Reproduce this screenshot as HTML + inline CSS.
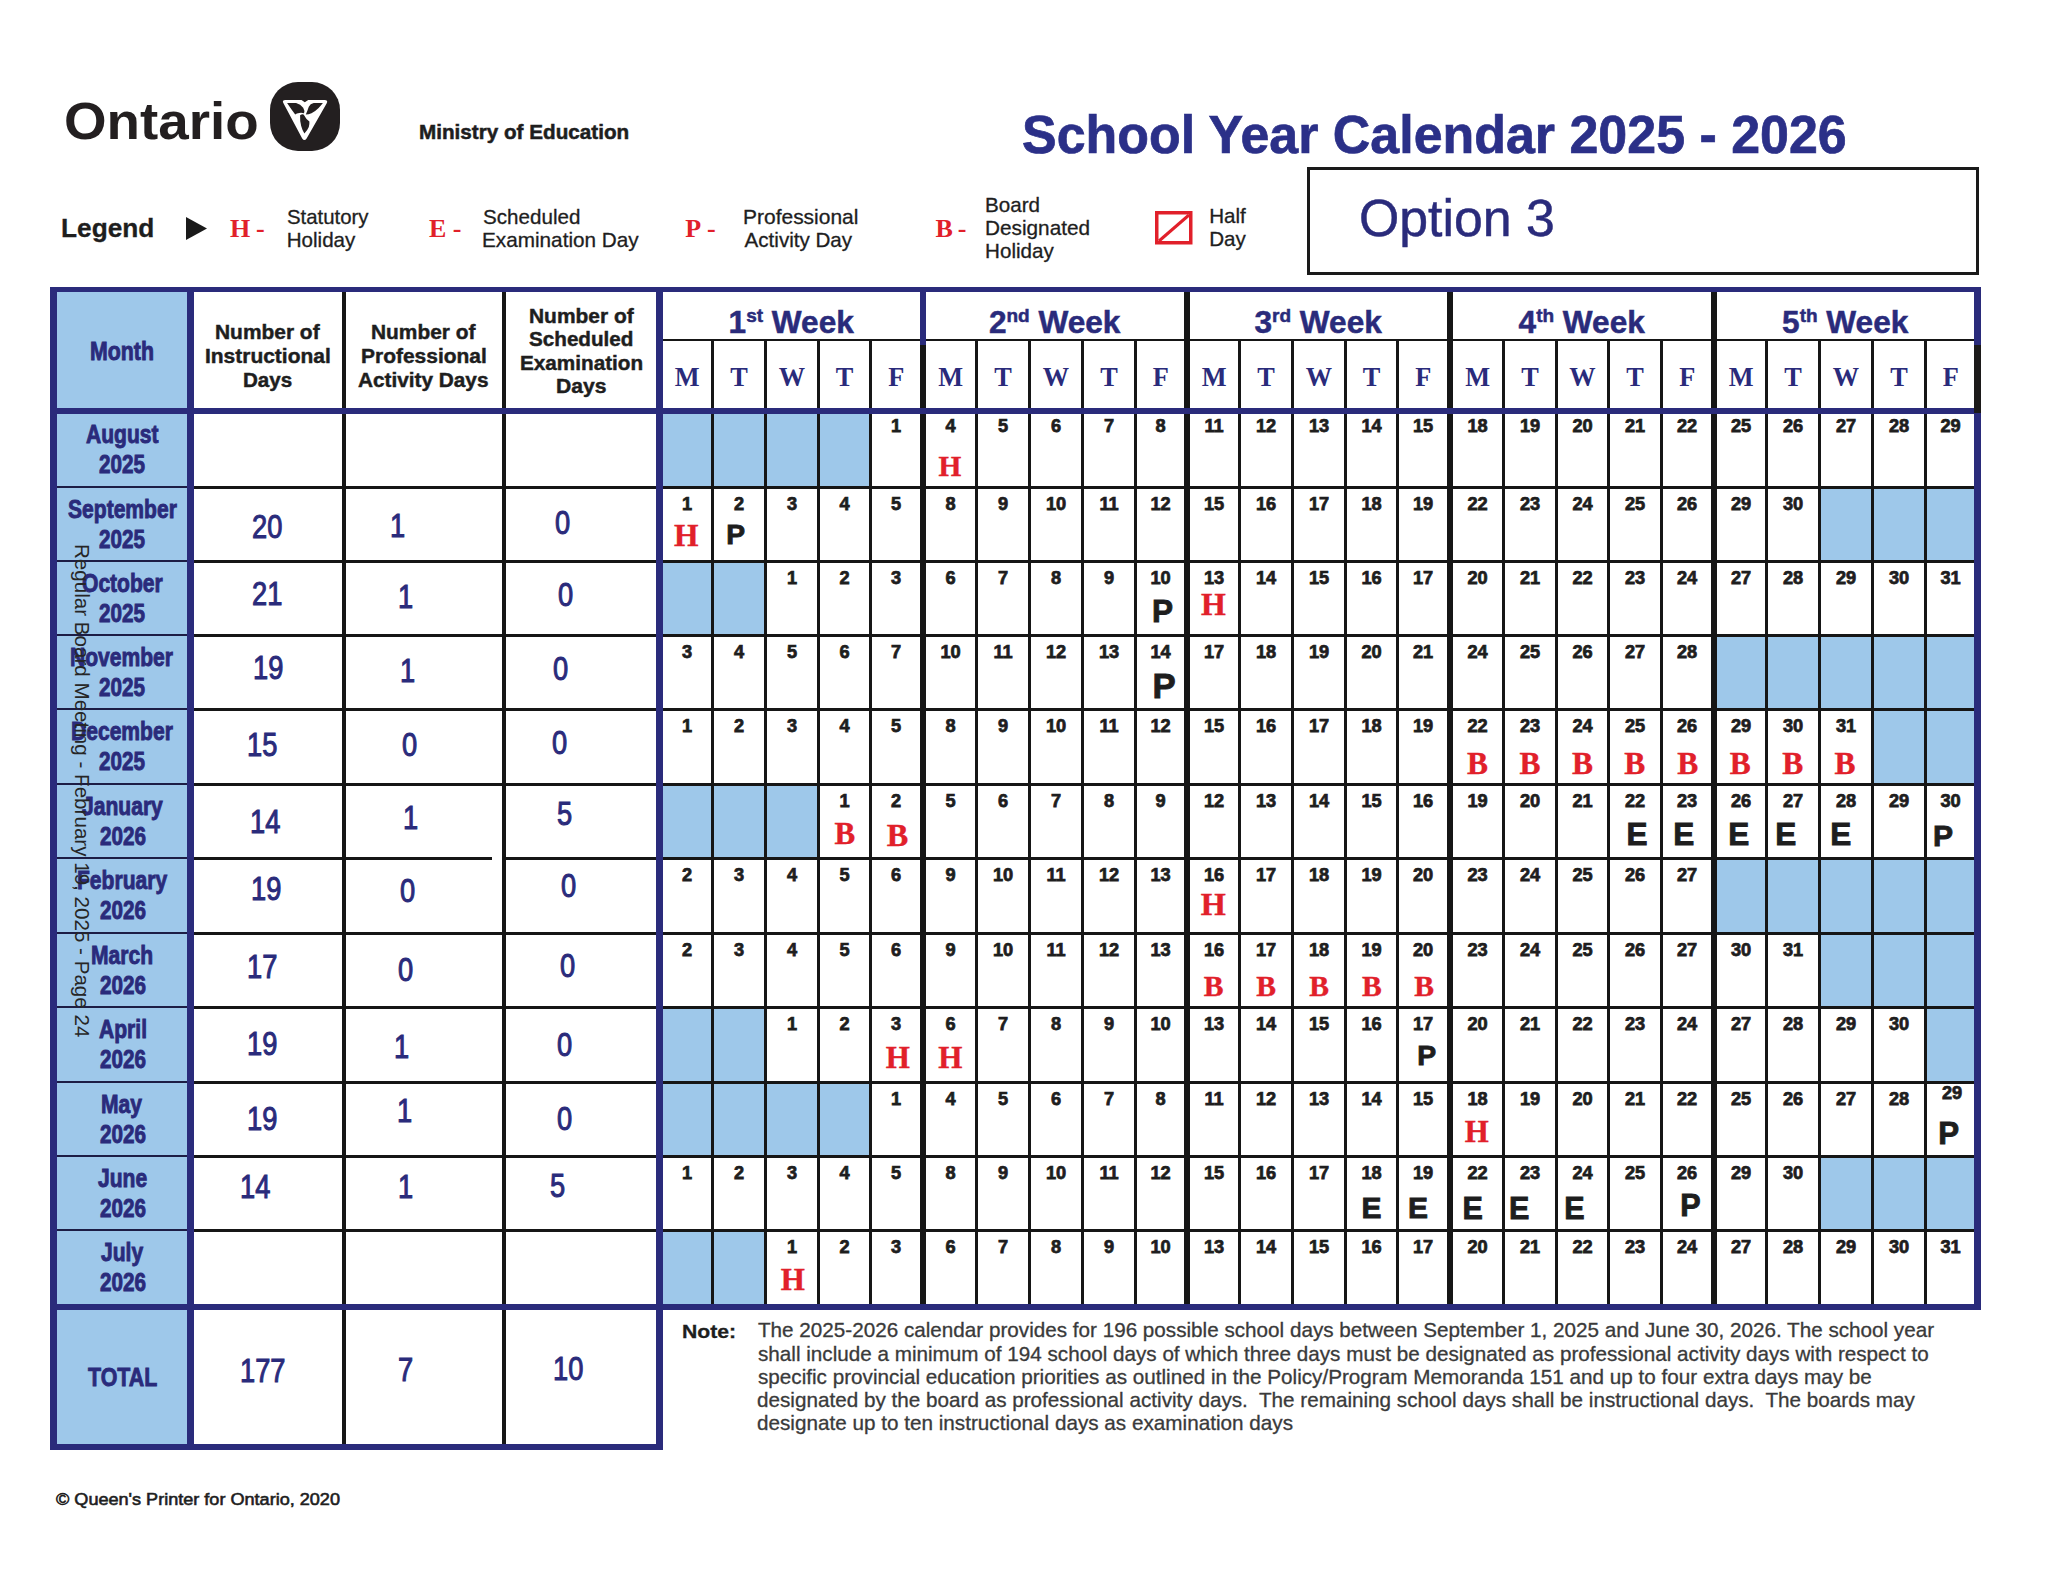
<!DOCTYPE html>
<html><head><meta charset="utf-8"><title>School Year Calendar 2025 - 2026</title>
<style>
html,body{margin:0;padding:0;background:#fff;}
body{width:2048px;height:1582px;position:relative;overflow:hidden;font-family:'Liberation Sans',sans-serif;}
body>div,body>svg{position:absolute;}
</style></head><body>
<div style="left:57px;top:292px;width:130px;height:1152px;background:#9ec8ea"></div>
<div style="left:663px;top:414px;width:48px;height:72px;background:#9ec8ea"></div>
<div style="left:714px;top:414px;width:50px;height:72px;background:#9ec8ea"></div>
<div style="left:767px;top:414px;width:50px;height:72px;background:#9ec8ea"></div>
<div style="left:820px;top:414px;width:49px;height:72px;background:#9ec8ea"></div>
<div style="left:1821px;top:489px;width:50px;height:71px;background:#9ec8ea"></div>
<div style="left:1874px;top:489px;width:50px;height:71px;background:#9ec8ea"></div>
<div style="left:1927px;top:489px;width:47px;height:71px;background:#9ec8ea"></div>
<div style="left:663px;top:563px;width:48px;height:71px;background:#9ec8ea"></div>
<div style="left:714px;top:563px;width:50px;height:71px;background:#9ec8ea"></div>
<div style="left:1717px;top:637px;width:48px;height:71px;background:#9ec8ea"></div>
<div style="left:1768px;top:637px;width:50px;height:71px;background:#9ec8ea"></div>
<div style="left:1821px;top:637px;width:50px;height:71px;background:#9ec8ea"></div>
<div style="left:1874px;top:637px;width:50px;height:71px;background:#9ec8ea"></div>
<div style="left:1927px;top:637px;width:47px;height:71px;background:#9ec8ea"></div>
<div style="left:1874px;top:711px;width:50px;height:72px;background:#9ec8ea"></div>
<div style="left:1927px;top:711px;width:47px;height:72px;background:#9ec8ea"></div>
<div style="left:663px;top:786px;width:48px;height:71px;background:#9ec8ea"></div>
<div style="left:714px;top:786px;width:50px;height:71px;background:#9ec8ea"></div>
<div style="left:767px;top:786px;width:50px;height:71px;background:#9ec8ea"></div>
<div style="left:1717px;top:860px;width:48px;height:72px;background:#9ec8ea"></div>
<div style="left:1768px;top:860px;width:50px;height:72px;background:#9ec8ea"></div>
<div style="left:1821px;top:860px;width:50px;height:72px;background:#9ec8ea"></div>
<div style="left:1874px;top:860px;width:50px;height:72px;background:#9ec8ea"></div>
<div style="left:1927px;top:860px;width:47px;height:72px;background:#9ec8ea"></div>
<div style="left:1821px;top:935px;width:50px;height:71px;background:#9ec8ea"></div>
<div style="left:1874px;top:935px;width:50px;height:71px;background:#9ec8ea"></div>
<div style="left:1927px;top:935px;width:47px;height:71px;background:#9ec8ea"></div>
<div style="left:663px;top:1009px;width:48px;height:72px;background:#9ec8ea"></div>
<div style="left:714px;top:1009px;width:50px;height:72px;background:#9ec8ea"></div>
<div style="left:1927px;top:1009px;width:47px;height:72px;background:#9ec8ea"></div>
<div style="left:663px;top:1084px;width:48px;height:71px;background:#9ec8ea"></div>
<div style="left:714px;top:1084px;width:50px;height:71px;background:#9ec8ea"></div>
<div style="left:767px;top:1084px;width:50px;height:71px;background:#9ec8ea"></div>
<div style="left:820px;top:1084px;width:49px;height:71px;background:#9ec8ea"></div>
<div style="left:1821px;top:1158px;width:50px;height:71px;background:#9ec8ea"></div>
<div style="left:1874px;top:1158px;width:50px;height:71px;background:#9ec8ea"></div>
<div style="left:1927px;top:1158px;width:47px;height:71px;background:#9ec8ea"></div>
<div style="left:663px;top:1232px;width:48px;height:72px;background:#9ec8ea"></div>
<div style="left:714px;top:1232px;width:50px;height:72px;background:#9ec8ea"></div>
<div style="left:342px;top:292px;width:4px;height:1152px;background:#161616"></div>
<div style="left:502px;top:292px;width:4px;height:1152px;background:#161616"></div>
<div style="left:57px;top:486px;width:130px;height:2px;background:#1d1d45"></div>
<div style="left:194px;top:486px;width:462px;height:3px;background:#161616"></div>
<div style="left:663px;top:486px;width:1311px;height:3px;background:#161616"></div>
<div style="left:57px;top:560px;width:130px;height:2px;background:#1d1d45"></div>
<div style="left:194px;top:560px;width:462px;height:3px;background:#161616"></div>
<div style="left:663px;top:560px;width:1311px;height:3px;background:#161616"></div>
<div style="left:57px;top:634px;width:130px;height:2px;background:#1d1d45"></div>
<div style="left:194px;top:634px;width:462px;height:3px;background:#161616"></div>
<div style="left:663px;top:634px;width:1311px;height:3px;background:#161616"></div>
<div style="left:57px;top:708px;width:130px;height:2px;background:#1d1d45"></div>
<div style="left:194px;top:708px;width:462px;height:3px;background:#161616"></div>
<div style="left:663px;top:708px;width:1311px;height:3px;background:#161616"></div>
<div style="left:57px;top:783px;width:130px;height:2px;background:#1d1d45"></div>
<div style="left:194px;top:783px;width:462px;height:3px;background:#161616"></div>
<div style="left:663px;top:783px;width:1311px;height:3px;background:#161616"></div>
<div style="left:57px;top:857px;width:130px;height:2px;background:#1d1d45"></div>
<div style="left:194px;top:857px;width:298px;height:3px;background:#161616"></div>
<div style="left:506px;top:857px;width:150px;height:3px;background:#161616"></div>
<div style="left:663px;top:857px;width:1311px;height:3px;background:#161616"></div>
<div style="left:57px;top:932px;width:130px;height:2px;background:#1d1d45"></div>
<div style="left:194px;top:932px;width:462px;height:3px;background:#161616"></div>
<div style="left:663px;top:932px;width:1311px;height:3px;background:#161616"></div>
<div style="left:57px;top:1006px;width:130px;height:2px;background:#1d1d45"></div>
<div style="left:194px;top:1006px;width:462px;height:3px;background:#161616"></div>
<div style="left:663px;top:1006px;width:1311px;height:3px;background:#161616"></div>
<div style="left:57px;top:1081px;width:130px;height:2px;background:#1d1d45"></div>
<div style="left:194px;top:1081px;width:462px;height:3px;background:#161616"></div>
<div style="left:663px;top:1081px;width:1311px;height:3px;background:#161616"></div>
<div style="left:57px;top:1155px;width:130px;height:2px;background:#1d1d45"></div>
<div style="left:194px;top:1155px;width:462px;height:3px;background:#161616"></div>
<div style="left:663px;top:1155px;width:1311px;height:3px;background:#161616"></div>
<div style="left:57px;top:1229px;width:130px;height:2px;background:#1d1d45"></div>
<div style="left:194px;top:1229px;width:462px;height:3px;background:#161616"></div>
<div style="left:663px;top:1229px;width:1311px;height:3px;background:#161616"></div>
<div style="left:711px;top:339px;width:3px;height:965px;background:#161616"></div>
<div style="left:764px;top:339px;width:3px;height:965px;background:#161616"></div>
<div style="left:817px;top:339px;width:3px;height:965px;background:#161616"></div>
<div style="left:869px;top:339px;width:3px;height:965px;background:#161616"></div>
<div style="left:975px;top:339px;width:3px;height:965px;background:#161616"></div>
<div style="left:1028px;top:339px;width:3px;height:965px;background:#161616"></div>
<div style="left:1081px;top:339px;width:3px;height:965px;background:#161616"></div>
<div style="left:1134px;top:339px;width:3px;height:965px;background:#161616"></div>
<div style="left:1238px;top:339px;width:3px;height:965px;background:#161616"></div>
<div style="left:1291px;top:339px;width:3px;height:965px;background:#161616"></div>
<div style="left:1344px;top:339px;width:3px;height:965px;background:#161616"></div>
<div style="left:1396px;top:339px;width:3px;height:965px;background:#161616"></div>
<div style="left:1502px;top:339px;width:3px;height:965px;background:#161616"></div>
<div style="left:1555px;top:339px;width:3px;height:965px;background:#161616"></div>
<div style="left:1607px;top:339px;width:3px;height:965px;background:#161616"></div>
<div style="left:1660px;top:339px;width:3px;height:965px;background:#161616"></div>
<div style="left:1765px;top:339px;width:3px;height:965px;background:#161616"></div>
<div style="left:1818px;top:339px;width:3px;height:965px;background:#161616"></div>
<div style="left:1871px;top:339px;width:3px;height:965px;background:#161616"></div>
<div style="left:1924px;top:339px;width:3px;height:965px;background:#161616"></div>
<div style="left:663px;top:339px;width:1311px;height:2px;background:#161616"></div>
<div style="left:920px;top:292px;width:6px;height:53px;background:#2a2b7b"></div>
<div style="left:920px;top:345px;width:6px;height:959px;background:#161616"></div>
<div style="left:1184px;top:292px;width:6px;height:1012px;background:#161616"></div>
<div style="left:1447px;top:292px;width:6px;height:1012px;background:#161616"></div>
<div style="left:1711px;top:292px;width:6px;height:1012px;background:#161616"></div>
<div style="left:50px;top:287px;width:1931px;height:5px;background:#2a2b7b"></div>
<div style="left:50px;top:287px;width:7px;height:1163px;background:#2a2b7b"></div>
<div style="left:50px;top:1444px;width:613px;height:6px;background:#2a2b7b"></div>
<div style="left:50px;top:1304px;width:1931px;height:6px;background:#2a2b7b"></div>
<div style="left:50px;top:408px;width:1931px;height:6px;background:#2a2b7b"></div>
<div style="left:187px;top:287px;width:7px;height:1163px;background:#2a2b7b"></div>
<div style="left:656px;top:287px;width:7px;height:1163px;background:#2a2b7b"></div>
<div style="left:1974px;top:287px;width:7px;height:1023px;background:#2a2b7b"></div>
<div style="left:1974px;top:345px;width:7px;height:68px;background:#1c1a1a"></div>
<div style="left:90.15px;top:338.54px;font:bold 25.70px/25.70px 'Liberation Sans', sans-serif;color:#2a2b7b;white-space:pre;transform:scaleX(0.8300);transform-origin:0 0;-webkit-text-stroke:0.9px #2a2b7b;">Month</div>
<div style="left:214.99px;top:321.90px;font:bold 20.20px/20.20px 'Liberation Sans', sans-serif;color:#1e1e1e;white-space:pre;transform:scaleX(1.0362);transform-origin:0 0;-webkit-text-stroke:0.45px #1e1e1e;">Number of</div>
<div style="left:204.58px;top:346.10px;font:bold 20.20px/20.20px 'Liberation Sans', sans-serif;color:#1e1e1e;white-space:pre;transform:scaleX(1.0378);transform-origin:0 0;-webkit-text-stroke:0.45px #1e1e1e;">Instructional</div>
<div style="left:242.61px;top:369.50px;font:bold 20.20px/20.20px 'Liberation Sans', sans-serif;color:#1e1e1e;white-space:pre;transform:scaleX(1.0194);transform-origin:0 0;-webkit-text-stroke:0.45px #1e1e1e;">Days</div>
<div style="left:371.09px;top:321.90px;font:bold 20.20px/20.20px 'Liberation Sans', sans-serif;color:#1e1e1e;white-space:pre;transform:scaleX(1.0352);transform-origin:0 0;-webkit-text-stroke:0.45px #1e1e1e;">Number of</div>
<div style="left:360.58px;top:345.90px;font:bold 20.20px/20.20px 'Liberation Sans', sans-serif;color:#1e1e1e;white-space:pre;transform:scaleX(1.0382);transform-origin:0 0;-webkit-text-stroke:0.45px #1e1e1e;">Professional</div>
<div style="left:358.18px;top:369.50px;font:bold 20.20px/20.20px 'Liberation Sans', sans-serif;color:#1e1e1e;white-space:pre;transform:scaleX(1.0291);transform-origin:0 0;-webkit-text-stroke:0.45px #1e1e1e;">Activity Days</div>
<div style="left:528.59px;top:305.90px;font:bold 20.20px/20.20px 'Liberation Sans', sans-serif;color:#1e1e1e;white-space:pre;transform:scaleX(1.0372);transform-origin:0 0;-webkit-text-stroke:0.45px #1e1e1e;">Number of</div>
<div style="left:529.38px;top:329.30px;font:bold 20.20px/20.20px 'Liberation Sans', sans-serif;color:#1e1e1e;white-space:pre;transform:scaleX(1.0230);transform-origin:0 0;-webkit-text-stroke:0.45px #1e1e1e;">Scheduled</div>
<div style="left:520.20px;top:352.90px;font:bold 20.20px/20.20px 'Liberation Sans', sans-serif;color:#1e1e1e;white-space:pre;transform:scaleX(1.0254);transform-origin:0 0;-webkit-text-stroke:0.45px #1e1e1e;">Examination</div>
<div style="left:555.77px;top:375.90px;font:bold 20.20px/20.20px 'Liberation Sans', sans-serif;color:#1e1e1e;white-space:pre;transform:scaleX(1.0454);transform-origin:0 0;-webkit-text-stroke:0.45px #1e1e1e;">Days</div>
<div style="top:307.25px;font:bold 31.6px/31.6px 'Liberation Sans', sans-serif;color:#2a2b7b;white-space:pre;left:391.20px;width:800px;text-align:center;-webkit-text-stroke:0.5px #2a2b7b;">1<span style="font-size:19px;position:relative;top:-11px">st</span> Week</div>
<div style="top:307.25px;font:bold 31.6px/31.6px 'Liberation Sans', sans-serif;color:#2a2b7b;white-space:pre;left:654.70px;width:800px;text-align:center;-webkit-text-stroke:0.5px #2a2b7b;">2<span style="font-size:19px;position:relative;top:-11px">nd</span> Week</div>
<div style="top:307.25px;font:bold 31.6px/31.6px 'Liberation Sans', sans-serif;color:#2a2b7b;white-space:pre;left:918.20px;width:800px;text-align:center;-webkit-text-stroke:0.5px #2a2b7b;">3<span style="font-size:19px;position:relative;top:-11px">rd</span> Week</div>
<div style="top:307.25px;font:bold 31.6px/31.6px 'Liberation Sans', sans-serif;color:#2a2b7b;white-space:pre;left:1181.70px;width:800px;text-align:center;-webkit-text-stroke:0.5px #2a2b7b;">4<span style="font-size:19px;position:relative;top:-11px">th</span> Week</div>
<div style="top:307.25px;font:bold 31.6px/31.6px 'Liberation Sans', sans-serif;color:#2a2b7b;white-space:pre;left:1445.20px;width:800px;text-align:center;-webkit-text-stroke:0.5px #2a2b7b;">5<span style="font-size:19px;position:relative;top:-11px">th</span> Week</div>
<div style="left:674.74px;top:365.47px;font:bold 26.30px/26.30px 'Liberation Serif', serif;color:#2a2b7b;white-space:pre;">M</div>
<div style="left:730.22px;top:365.47px;font:bold 26.30px/26.30px 'Liberation Serif', serif;color:#2a2b7b;white-space:pre;">T</div>
<div style="left:778.85px;top:365.47px;font:bold 26.30px/26.30px 'Liberation Serif', serif;color:#2a2b7b;white-space:pre;">W</div>
<div style="left:835.72px;top:365.47px;font:bold 26.30px/26.30px 'Liberation Serif', serif;color:#2a2b7b;white-space:pre;">T</div>
<div style="left:888.37px;top:365.47px;font:bold 26.30px/26.30px 'Liberation Serif', serif;color:#2a2b7b;white-space:pre;">F</div>
<div style="left:938.24px;top:365.47px;font:bold 26.30px/26.30px 'Liberation Serif', serif;color:#2a2b7b;white-space:pre;">M</div>
<div style="left:994.22px;top:365.47px;font:bold 26.30px/26.30px 'Liberation Serif', serif;color:#2a2b7b;white-space:pre;">T</div>
<div style="left:1042.85px;top:365.47px;font:bold 26.30px/26.30px 'Liberation Serif', serif;color:#2a2b7b;white-space:pre;">W</div>
<div style="left:1100.22px;top:365.47px;font:bold 26.30px/26.30px 'Liberation Serif', serif;color:#2a2b7b;white-space:pre;">T</div>
<div style="left:1152.87px;top:365.47px;font:bold 26.30px/26.30px 'Liberation Serif', serif;color:#2a2b7b;white-space:pre;">F</div>
<div style="left:1201.74px;top:365.47px;font:bold 26.30px/26.30px 'Liberation Serif', serif;color:#2a2b7b;white-space:pre;">M</div>
<div style="left:1257.22px;top:365.47px;font:bold 26.30px/26.30px 'Liberation Serif', serif;color:#2a2b7b;white-space:pre;">T</div>
<div style="left:1305.85px;top:365.47px;font:bold 26.30px/26.30px 'Liberation Serif', serif;color:#2a2b7b;white-space:pre;">W</div>
<div style="left:1362.72px;top:365.47px;font:bold 26.30px/26.30px 'Liberation Serif', serif;color:#2a2b7b;white-space:pre;">T</div>
<div style="left:1415.37px;top:365.47px;font:bold 26.30px/26.30px 'Liberation Serif', serif;color:#2a2b7b;white-space:pre;">F</div>
<div style="left:1465.24px;top:365.47px;font:bold 26.30px/26.30px 'Liberation Serif', serif;color:#2a2b7b;white-space:pre;">M</div>
<div style="left:1521.22px;top:365.47px;font:bold 26.30px/26.30px 'Liberation Serif', serif;color:#2a2b7b;white-space:pre;">T</div>
<div style="left:1569.35px;top:365.47px;font:bold 26.30px/26.30px 'Liberation Serif', serif;color:#2a2b7b;white-space:pre;">W</div>
<div style="left:1626.22px;top:365.47px;font:bold 26.30px/26.30px 'Liberation Serif', serif;color:#2a2b7b;white-space:pre;">T</div>
<div style="left:1679.37px;top:365.47px;font:bold 26.30px/26.30px 'Liberation Serif', serif;color:#2a2b7b;white-space:pre;">F</div>
<div style="left:1728.74px;top:365.47px;font:bold 26.30px/26.30px 'Liberation Serif', serif;color:#2a2b7b;white-space:pre;">M</div>
<div style="left:1784.22px;top:365.47px;font:bold 26.30px/26.30px 'Liberation Serif', serif;color:#2a2b7b;white-space:pre;">T</div>
<div style="left:1832.85px;top:365.47px;font:bold 26.30px/26.30px 'Liberation Serif', serif;color:#2a2b7b;white-space:pre;">W</div>
<div style="left:1890.22px;top:365.47px;font:bold 26.30px/26.30px 'Liberation Serif', serif;color:#2a2b7b;white-space:pre;">T</div>
<div style="left:1942.87px;top:365.47px;font:bold 26.30px/26.30px 'Liberation Serif', serif;color:#2a2b7b;white-space:pre;">F</div>
<div style="left:86.09px;top:421.64px;font:bold 25.70px/25.70px 'Liberation Sans', sans-serif;color:#2a2b7b;white-space:pre;transform:scaleX(0.8200);transform-origin:0 0;-webkit-text-stroke:0.9px #2a2b7b;">August</div>
<div style="left:99.46px;top:451.77px;font:bold 25.20px/25.20px 'Liberation Sans', sans-serif;color:#2a2b7b;white-space:pre;transform:scaleX(0.8200);transform-origin:0 0;-webkit-text-stroke:0.9px #2a2b7b;">2025</div>
<div style="left:67.87px;top:496.64px;font:bold 25.70px/25.70px 'Liberation Sans', sans-serif;color:#2a2b7b;white-space:pre;transform:scaleX(0.8200);transform-origin:0 0;-webkit-text-stroke:0.9px #2a2b7b;">September</div>
<div style="left:99.46px;top:526.77px;font:bold 25.20px/25.20px 'Liberation Sans', sans-serif;color:#2a2b7b;white-space:pre;transform:scaleX(0.8200);transform-origin:0 0;-webkit-text-stroke:0.9px #2a2b7b;">2025</div>
<div style="left:81.83px;top:570.64px;font:bold 25.70px/25.70px 'Liberation Sans', sans-serif;color:#2a2b7b;white-space:pre;transform:scaleX(0.8200);transform-origin:0 0;-webkit-text-stroke:0.9px #2a2b7b;">October</div>
<div style="left:99.46px;top:600.77px;font:bold 25.20px/25.20px 'Liberation Sans', sans-serif;color:#2a2b7b;white-space:pre;transform:scaleX(0.8200);transform-origin:0 0;-webkit-text-stroke:0.9px #2a2b7b;">2025</div>
<div style="left:70.39px;top:644.64px;font:bold 25.70px/25.70px 'Liberation Sans', sans-serif;color:#2a2b7b;white-space:pre;transform:scaleX(0.8200);transform-origin:0 0;-webkit-text-stroke:0.9px #2a2b7b;">November</div>
<div style="left:99.46px;top:674.77px;font:bold 25.20px/25.20px 'Liberation Sans', sans-serif;color:#2a2b7b;white-space:pre;transform:scaleX(0.8200);transform-origin:0 0;-webkit-text-stroke:0.9px #2a2b7b;">2025</div>
<div style="left:70.97px;top:718.64px;font:bold 25.70px/25.70px 'Liberation Sans', sans-serif;color:#2a2b7b;white-space:pre;transform:scaleX(0.8200);transform-origin:0 0;-webkit-text-stroke:0.9px #2a2b7b;">December</div>
<div style="left:99.46px;top:748.77px;font:bold 25.20px/25.20px 'Liberation Sans', sans-serif;color:#2a2b7b;white-space:pre;transform:scaleX(0.8200);transform-origin:0 0;-webkit-text-stroke:0.9px #2a2b7b;">2025</div>
<div style="left:81.99px;top:793.64px;font:bold 25.70px/25.70px 'Liberation Sans', sans-serif;color:#2a2b7b;white-space:pre;transform:scaleX(0.8200);transform-origin:0 0;-webkit-text-stroke:0.9px #2a2b7b;">January</div>
<div style="left:99.54px;top:823.77px;font:bold 25.20px/25.20px 'Liberation Sans', sans-serif;color:#2a2b7b;white-space:pre;transform:scaleX(0.8200);transform-origin:0 0;-webkit-text-stroke:0.9px #2a2b7b;">2026</div>
<div style="left:76.77px;top:867.64px;font:bold 25.70px/25.70px 'Liberation Sans', sans-serif;color:#2a2b7b;white-space:pre;transform:scaleX(0.8200);transform-origin:0 0;-webkit-text-stroke:0.9px #2a2b7b;">February</div>
<div style="left:99.54px;top:897.77px;font:bold 25.20px/25.20px 'Liberation Sans', sans-serif;color:#2a2b7b;white-space:pre;transform:scaleX(0.8200);transform-origin:0 0;-webkit-text-stroke:0.9px #2a2b7b;">2026</div>
<div style="left:91.39px;top:942.64px;font:bold 25.70px/25.70px 'Liberation Sans', sans-serif;color:#2a2b7b;white-space:pre;transform:scaleX(0.8200);transform-origin:0 0;-webkit-text-stroke:0.9px #2a2b7b;">March</div>
<div style="left:99.54px;top:972.77px;font:bold 25.20px/25.20px 'Liberation Sans', sans-serif;color:#2a2b7b;white-space:pre;transform:scaleX(0.8200);transform-origin:0 0;-webkit-text-stroke:0.9px #2a2b7b;">2026</div>
<div style="left:98.98px;top:1016.64px;font:bold 25.70px/25.70px 'Liberation Sans', sans-serif;color:#2a2b7b;white-space:pre;transform:scaleX(0.8200);transform-origin:0 0;-webkit-text-stroke:0.9px #2a2b7b;">April</div>
<div style="left:99.54px;top:1046.77px;font:bold 25.20px/25.20px 'Liberation Sans', sans-serif;color:#2a2b7b;white-space:pre;transform:scaleX(0.8200);transform-origin:0 0;-webkit-text-stroke:0.9px #2a2b7b;">2026</div>
<div style="left:101.35px;top:1091.64px;font:bold 25.70px/25.70px 'Liberation Sans', sans-serif;color:#2a2b7b;white-space:pre;transform:scaleX(0.8200);transform-origin:0 0;-webkit-text-stroke:0.9px #2a2b7b;">May</div>
<div style="left:99.54px;top:1121.77px;font:bold 25.20px/25.20px 'Liberation Sans', sans-serif;color:#2a2b7b;white-space:pre;transform:scaleX(0.8200);transform-origin:0 0;-webkit-text-stroke:0.9px #2a2b7b;">2026</div>
<div style="left:98.11px;top:1165.64px;font:bold 25.70px/25.70px 'Liberation Sans', sans-serif;color:#2a2b7b;white-space:pre;transform:scaleX(0.8200);transform-origin:0 0;-webkit-text-stroke:0.9px #2a2b7b;">June</div>
<div style="left:99.54px;top:1195.77px;font:bold 25.20px/25.20px 'Liberation Sans', sans-serif;color:#2a2b7b;white-space:pre;transform:scaleX(0.8200);transform-origin:0 0;-webkit-text-stroke:0.9px #2a2b7b;">2026</div>
<div style="left:101.32px;top:1239.64px;font:bold 25.70px/25.70px 'Liberation Sans', sans-serif;color:#2a2b7b;white-space:pre;transform:scaleX(0.8200);transform-origin:0 0;-webkit-text-stroke:0.9px #2a2b7b;">July</div>
<div style="left:99.54px;top:1269.77px;font:bold 25.20px/25.20px 'Liberation Sans', sans-serif;color:#2a2b7b;white-space:pre;transform:scaleX(0.8200);transform-origin:0 0;-webkit-text-stroke:0.9px #2a2b7b;">2026</div>
<div style="left:88.49px;top:1364.34px;font:bold 26.57px/26.57px 'Liberation Sans', sans-serif;color:#2a2b7b;white-space:pre;transform:scaleX(0.8044);transform-origin:0 0;-webkit-text-stroke:0.9px #2a2b7b;">TOTAL</div>
<div style="left:252.23px;top:511.16px;font:32.50px/32.50px 'Liberation Sans', sans-serif;color:#2a2b7b;white-space:pre;transform:scaleX(0.8400);transform-origin:0 0;-webkit-text-stroke:1px #2a2b7b;">20</div>
<div style="left:390.05px;top:510.29px;font:32.50px/32.50px 'Liberation Sans', sans-serif;color:#2a2b7b;white-space:pre;transform:scaleX(0.8400);transform-origin:0 0;-webkit-text-stroke:1px #2a2b7b;">1</div>
<div style="left:554.99px;top:506.96px;font:32.50px/32.50px 'Liberation Sans', sans-serif;color:#2a2b7b;white-space:pre;transform:scaleX(0.8400);transform-origin:0 0;-webkit-text-stroke:1px #2a2b7b;">0</div>
<div style="left:252.26px;top:578.39px;font:32.50px/32.50px 'Liberation Sans', sans-serif;color:#2a2b7b;white-space:pre;transform:scaleX(0.8400);transform-origin:0 0;-webkit-text-stroke:1px #2a2b7b;">21</div>
<div style="left:398.15px;top:580.69px;font:32.50px/32.50px 'Liberation Sans', sans-serif;color:#2a2b7b;white-space:pre;transform:scaleX(0.8400);transform-origin:0 0;-webkit-text-stroke:1px #2a2b7b;">1</div>
<div style="left:558.14px;top:578.76px;font:32.50px/32.50px 'Liberation Sans', sans-serif;color:#2a2b7b;white-space:pre;transform:scaleX(0.8400);transform-origin:0 0;-webkit-text-stroke:1px #2a2b7b;">0</div>
<div style="left:252.69px;top:651.96px;font:32.50px/32.50px 'Liberation Sans', sans-serif;color:#2a2b7b;white-space:pre;transform:scaleX(0.8400);transform-origin:0 0;-webkit-text-stroke:1px #2a2b7b;">19</div>
<div style="left:399.90px;top:655.09px;font:32.50px/32.50px 'Liberation Sans', sans-serif;color:#2a2b7b;white-space:pre;transform:scaleX(0.8400);transform-origin:0 0;-webkit-text-stroke:1px #2a2b7b;">1</div>
<div style="left:553.49px;top:653.06px;font:32.50px/32.50px 'Liberation Sans', sans-serif;color:#2a2b7b;white-space:pre;transform:scaleX(0.8400);transform-origin:0 0;-webkit-text-stroke:1px #2a2b7b;">0</div>
<div style="left:246.77px;top:729.36px;font:32.50px/32.50px 'Liberation Sans', sans-serif;color:#2a2b7b;white-space:pre;transform:scaleX(0.8400);transform-origin:0 0;-webkit-text-stroke:1px #2a2b7b;">15</div>
<div style="left:401.74px;top:729.36px;font:32.50px/32.50px 'Liberation Sans', sans-serif;color:#2a2b7b;white-space:pre;transform:scaleX(0.8400);transform-origin:0 0;-webkit-text-stroke:1px #2a2b7b;">0</div>
<div style="left:552.39px;top:726.96px;font:32.50px/32.50px 'Liberation Sans', sans-serif;color:#2a2b7b;white-space:pre;transform:scaleX(0.8400);transform-origin:0 0;-webkit-text-stroke:1px #2a2b7b;">0</div>
<div style="left:250.45px;top:805.89px;font:32.50px/32.50px 'Liberation Sans', sans-serif;color:#2a2b7b;white-space:pre;transform:scaleX(0.8400);transform-origin:0 0;-webkit-text-stroke:1px #2a2b7b;">14</div>
<div style="left:403.35px;top:801.89px;font:32.50px/32.50px 'Liberation Sans', sans-serif;color:#2a2b7b;white-space:pre;transform:scaleX(0.8400);transform-origin:0 0;-webkit-text-stroke:1px #2a2b7b;">1</div>
<div style="left:556.52px;top:798.46px;font:32.50px/32.50px 'Liberation Sans', sans-serif;color:#2a2b7b;white-space:pre;transform:scaleX(0.8400);transform-origin:0 0;-webkit-text-stroke:1px #2a2b7b;">5</div>
<div style="left:251.39px;top:873.36px;font:32.50px/32.50px 'Liberation Sans', sans-serif;color:#2a2b7b;white-space:pre;transform:scaleX(0.8400);transform-origin:0 0;-webkit-text-stroke:1px #2a2b7b;">19</div>
<div style="left:400.29px;top:874.86px;font:32.50px/32.50px 'Liberation Sans', sans-serif;color:#2a2b7b;white-space:pre;transform:scaleX(0.8400);transform-origin:0 0;-webkit-text-stroke:1px #2a2b7b;">0</div>
<div style="left:561.49px;top:870.16px;font:32.50px/32.50px 'Liberation Sans', sans-serif;color:#2a2b7b;white-space:pre;transform:scaleX(0.8400);transform-origin:0 0;-webkit-text-stroke:1px #2a2b7b;">0</div>
<div style="left:247.46px;top:950.89px;font:32.50px/32.50px 'Liberation Sans', sans-serif;color:#2a2b7b;white-space:pre;transform:scaleX(0.8400);transform-origin:0 0;-webkit-text-stroke:1px #2a2b7b;">17</div>
<div style="left:398.44px;top:954.06px;font:32.50px/32.50px 'Liberation Sans', sans-serif;color:#2a2b7b;white-space:pre;transform:scaleX(0.8400);transform-origin:0 0;-webkit-text-stroke:1px #2a2b7b;">0</div>
<div style="left:559.79px;top:950.06px;font:32.50px/32.50px 'Liberation Sans', sans-serif;color:#2a2b7b;white-space:pre;transform:scaleX(0.8400);transform-origin:0 0;-webkit-text-stroke:1px #2a2b7b;">0</div>
<div style="left:246.69px;top:1028.16px;font:32.50px/32.50px 'Liberation Sans', sans-serif;color:#2a2b7b;white-space:pre;transform:scaleX(0.8400);transform-origin:0 0;-webkit-text-stroke:1px #2a2b7b;">19</div>
<div style="left:394.20px;top:1030.79px;font:32.50px/32.50px 'Liberation Sans', sans-serif;color:#2a2b7b;white-space:pre;transform:scaleX(0.8400);transform-origin:0 0;-webkit-text-stroke:1px #2a2b7b;">1</div>
<div style="left:556.89px;top:1029.26px;font:32.50px/32.50px 'Liberation Sans', sans-serif;color:#2a2b7b;white-space:pre;transform:scaleX(0.8400);transform-origin:0 0;-webkit-text-stroke:1px #2a2b7b;">0</div>
<div style="left:246.69px;top:1102.86px;font:32.50px/32.50px 'Liberation Sans', sans-serif;color:#2a2b7b;white-space:pre;transform:scaleX(0.8400);transform-origin:0 0;-webkit-text-stroke:1px #2a2b7b;">19</div>
<div style="left:396.85px;top:1095.49px;font:32.50px/32.50px 'Liberation Sans', sans-serif;color:#2a2b7b;white-space:pre;transform:scaleX(0.8400);transform-origin:0 0;-webkit-text-stroke:1px #2a2b7b;">1</div>
<div style="left:556.89px;top:1102.86px;font:32.50px/32.50px 'Liberation Sans', sans-serif;color:#2a2b7b;white-space:pre;transform:scaleX(0.8400);transform-origin:0 0;-webkit-text-stroke:1px #2a2b7b;">0</div>
<div style="left:239.75px;top:1170.69px;font:32.50px/32.50px 'Liberation Sans', sans-serif;color:#2a2b7b;white-space:pre;transform:scaleX(0.8400);transform-origin:0 0;-webkit-text-stroke:1px #2a2b7b;">14</div>
<div style="left:398.05px;top:1170.69px;font:32.50px/32.50px 'Liberation Sans', sans-serif;color:#2a2b7b;white-space:pre;transform:scaleX(0.8400);transform-origin:0 0;-webkit-text-stroke:1px #2a2b7b;">1</div>
<div style="left:550.42px;top:1170.36px;font:32.50px/32.50px 'Liberation Sans', sans-serif;color:#2a2b7b;white-space:pre;transform:scaleX(0.8400);transform-origin:0 0;-webkit-text-stroke:1px #2a2b7b;">5</div>
<div style="left:239.55px;top:1355.19px;font:32.50px/32.50px 'Liberation Sans', sans-serif;color:#2a2b7b;white-space:pre;transform:scaleX(0.8400);transform-origin:0 0;-webkit-text-stroke:1px #2a2b7b;">177</div>
<div style="left:398.32px;top:1353.59px;font:32.50px/32.50px 'Liberation Sans', sans-serif;color:#2a2b7b;white-space:pre;transform:scaleX(0.8400);transform-origin:0 0;-webkit-text-stroke:1px #2a2b7b;">7</div>
<div style="left:553.34px;top:1352.56px;font:32.50px/32.50px 'Liberation Sans', sans-serif;color:#2a2b7b;white-space:pre;transform:scaleX(0.8400);transform-origin:0 0;-webkit-text-stroke:1px #2a2b7b;">10</div>
<div style="top:416.89px;font:bold 18.2px/18.2px 'Liberation Sans', sans-serif;color:#1e1e1e;white-space:pre;left:496.00px;width:800px;text-align:center;-webkit-text-stroke:0.75px #1e1e1e;">1</div>
<div style="top:416.89px;font:bold 18.2px/18.2px 'Liberation Sans', sans-serif;color:#1e1e1e;white-space:pre;left:550.50px;width:800px;text-align:center;-webkit-text-stroke:0.75px #1e1e1e;">4</div>
<div style="left:938.57px;top:452.05px;font:bold 29.31px/29.31px 'Liberation Serif', serif;color:#e1202a;white-space:pre;-webkit-text-stroke:0.4px #e1202a;">H</div>
<div style="top:416.89px;font:bold 18.2px/18.2px 'Liberation Sans', sans-serif;color:#1e1e1e;white-space:pre;left:603.00px;width:800px;text-align:center;-webkit-text-stroke:0.75px #1e1e1e;">5</div>
<div style="top:416.89px;font:bold 18.2px/18.2px 'Liberation Sans', sans-serif;color:#1e1e1e;white-space:pre;left:656.00px;width:800px;text-align:center;-webkit-text-stroke:0.75px #1e1e1e;">6</div>
<div style="top:416.89px;font:bold 18.2px/18.2px 'Liberation Sans', sans-serif;color:#1e1e1e;white-space:pre;left:709.00px;width:800px;text-align:center;-webkit-text-stroke:0.75px #1e1e1e;">7</div>
<div style="top:416.89px;font:bold 18.2px/18.2px 'Liberation Sans', sans-serif;color:#1e1e1e;white-space:pre;left:760.50px;width:800px;text-align:center;-webkit-text-stroke:0.75px #1e1e1e;">8</div>
<div style="top:416.89px;font:bold 18.2px/18.2px 'Liberation Sans', sans-serif;color:#1e1e1e;white-space:pre;left:814.00px;width:800px;text-align:center;-webkit-text-stroke:0.75px #1e1e1e;">11</div>
<div style="top:416.89px;font:bold 18.2px/18.2px 'Liberation Sans', sans-serif;color:#1e1e1e;white-space:pre;left:866.00px;width:800px;text-align:center;-webkit-text-stroke:0.75px #1e1e1e;">12</div>
<div style="top:416.89px;font:bold 18.2px/18.2px 'Liberation Sans', sans-serif;color:#1e1e1e;white-space:pre;left:919.00px;width:800px;text-align:center;-webkit-text-stroke:0.75px #1e1e1e;">13</div>
<div style="top:416.89px;font:bold 18.2px/18.2px 'Liberation Sans', sans-serif;color:#1e1e1e;white-space:pre;left:971.50px;width:800px;text-align:center;-webkit-text-stroke:0.75px #1e1e1e;">14</div>
<div style="top:416.89px;font:bold 18.2px/18.2px 'Liberation Sans', sans-serif;color:#1e1e1e;white-space:pre;left:1023.00px;width:800px;text-align:center;-webkit-text-stroke:0.75px #1e1e1e;">15</div>
<div style="top:416.89px;font:bold 18.2px/18.2px 'Liberation Sans', sans-serif;color:#1e1e1e;white-space:pre;left:1077.50px;width:800px;text-align:center;-webkit-text-stroke:0.75px #1e1e1e;">18</div>
<div style="top:416.89px;font:bold 18.2px/18.2px 'Liberation Sans', sans-serif;color:#1e1e1e;white-space:pre;left:1130.00px;width:800px;text-align:center;-webkit-text-stroke:0.75px #1e1e1e;">19</div>
<div style="top:416.89px;font:bold 18.2px/18.2px 'Liberation Sans', sans-serif;color:#1e1e1e;white-space:pre;left:1182.50px;width:800px;text-align:center;-webkit-text-stroke:0.75px #1e1e1e;">20</div>
<div style="top:416.89px;font:bold 18.2px/18.2px 'Liberation Sans', sans-serif;color:#1e1e1e;white-space:pre;left:1235.00px;width:800px;text-align:center;-webkit-text-stroke:0.75px #1e1e1e;">21</div>
<div style="top:416.89px;font:bold 18.2px/18.2px 'Liberation Sans', sans-serif;color:#1e1e1e;white-space:pre;left:1287.00px;width:800px;text-align:center;-webkit-text-stroke:0.75px #1e1e1e;">22</div>
<div style="top:416.89px;font:bold 18.2px/18.2px 'Liberation Sans', sans-serif;color:#1e1e1e;white-space:pre;left:1341.00px;width:800px;text-align:center;-webkit-text-stroke:0.75px #1e1e1e;">25</div>
<div style="top:416.89px;font:bold 18.2px/18.2px 'Liberation Sans', sans-serif;color:#1e1e1e;white-space:pre;left:1393.00px;width:800px;text-align:center;-webkit-text-stroke:0.75px #1e1e1e;">26</div>
<div style="top:416.89px;font:bold 18.2px/18.2px 'Liberation Sans', sans-serif;color:#1e1e1e;white-space:pre;left:1446.00px;width:800px;text-align:center;-webkit-text-stroke:0.75px #1e1e1e;">27</div>
<div style="top:416.89px;font:bold 18.2px/18.2px 'Liberation Sans', sans-serif;color:#1e1e1e;white-space:pre;left:1499.00px;width:800px;text-align:center;-webkit-text-stroke:0.75px #1e1e1e;">28</div>
<div style="top:416.89px;font:bold 18.2px/18.2px 'Liberation Sans', sans-serif;color:#1e1e1e;white-space:pre;left:1550.50px;width:800px;text-align:center;-webkit-text-stroke:0.75px #1e1e1e;">29</div>
<div style="top:494.69px;font:bold 18.2px/18.2px 'Liberation Sans', sans-serif;color:#1e1e1e;white-space:pre;left:287.00px;width:800px;text-align:center;-webkit-text-stroke:0.75px #1e1e1e;">1</div>
<div style="left:673.93px;top:519.56px;font:bold 31.45px/31.45px 'Liberation Serif', serif;color:#e1202a;white-space:pre;-webkit-text-stroke:0.4px #e1202a;">H</div>
<div style="top:494.69px;font:bold 18.2px/18.2px 'Liberation Sans', sans-serif;color:#1e1e1e;white-space:pre;left:339.00px;width:800px;text-align:center;-webkit-text-stroke:0.75px #1e1e1e;">2</div>
<div style="left:726.13px;top:519.58px;font:bold 28.20px/28.20px 'Liberation Sans', sans-serif;color:#1e1e1e;white-space:pre;-webkit-text-stroke:0.9px #1e1e1e;">P</div>
<div style="top:494.69px;font:bold 18.2px/18.2px 'Liberation Sans', sans-serif;color:#1e1e1e;white-space:pre;left:392.00px;width:800px;text-align:center;-webkit-text-stroke:0.75px #1e1e1e;">3</div>
<div style="top:494.69px;font:bold 18.2px/18.2px 'Liberation Sans', sans-serif;color:#1e1e1e;white-space:pre;left:444.50px;width:800px;text-align:center;-webkit-text-stroke:0.75px #1e1e1e;">4</div>
<div style="top:494.69px;font:bold 18.2px/18.2px 'Liberation Sans', sans-serif;color:#1e1e1e;white-space:pre;left:496.00px;width:800px;text-align:center;-webkit-text-stroke:0.75px #1e1e1e;">5</div>
<div style="top:494.69px;font:bold 18.2px/18.2px 'Liberation Sans', sans-serif;color:#1e1e1e;white-space:pre;left:550.50px;width:800px;text-align:center;-webkit-text-stroke:0.75px #1e1e1e;">8</div>
<div style="top:494.69px;font:bold 18.2px/18.2px 'Liberation Sans', sans-serif;color:#1e1e1e;white-space:pre;left:603.00px;width:800px;text-align:center;-webkit-text-stroke:0.75px #1e1e1e;">9</div>
<div style="top:494.69px;font:bold 18.2px/18.2px 'Liberation Sans', sans-serif;color:#1e1e1e;white-space:pre;left:656.00px;width:800px;text-align:center;-webkit-text-stroke:0.75px #1e1e1e;">10</div>
<div style="top:494.69px;font:bold 18.2px/18.2px 'Liberation Sans', sans-serif;color:#1e1e1e;white-space:pre;left:709.00px;width:800px;text-align:center;-webkit-text-stroke:0.75px #1e1e1e;">11</div>
<div style="top:494.69px;font:bold 18.2px/18.2px 'Liberation Sans', sans-serif;color:#1e1e1e;white-space:pre;left:760.50px;width:800px;text-align:center;-webkit-text-stroke:0.75px #1e1e1e;">12</div>
<div style="top:494.69px;font:bold 18.2px/18.2px 'Liberation Sans', sans-serif;color:#1e1e1e;white-space:pre;left:814.00px;width:800px;text-align:center;-webkit-text-stroke:0.75px #1e1e1e;">15</div>
<div style="top:494.69px;font:bold 18.2px/18.2px 'Liberation Sans', sans-serif;color:#1e1e1e;white-space:pre;left:866.00px;width:800px;text-align:center;-webkit-text-stroke:0.75px #1e1e1e;">16</div>
<div style="top:494.69px;font:bold 18.2px/18.2px 'Liberation Sans', sans-serif;color:#1e1e1e;white-space:pre;left:919.00px;width:800px;text-align:center;-webkit-text-stroke:0.75px #1e1e1e;">17</div>
<div style="top:494.69px;font:bold 18.2px/18.2px 'Liberation Sans', sans-serif;color:#1e1e1e;white-space:pre;left:971.50px;width:800px;text-align:center;-webkit-text-stroke:0.75px #1e1e1e;">18</div>
<div style="top:494.69px;font:bold 18.2px/18.2px 'Liberation Sans', sans-serif;color:#1e1e1e;white-space:pre;left:1023.00px;width:800px;text-align:center;-webkit-text-stroke:0.75px #1e1e1e;">19</div>
<div style="top:494.69px;font:bold 18.2px/18.2px 'Liberation Sans', sans-serif;color:#1e1e1e;white-space:pre;left:1077.50px;width:800px;text-align:center;-webkit-text-stroke:0.75px #1e1e1e;">22</div>
<div style="top:494.69px;font:bold 18.2px/18.2px 'Liberation Sans', sans-serif;color:#1e1e1e;white-space:pre;left:1130.00px;width:800px;text-align:center;-webkit-text-stroke:0.75px #1e1e1e;">23</div>
<div style="top:494.69px;font:bold 18.2px/18.2px 'Liberation Sans', sans-serif;color:#1e1e1e;white-space:pre;left:1182.50px;width:800px;text-align:center;-webkit-text-stroke:0.75px #1e1e1e;">24</div>
<div style="top:494.69px;font:bold 18.2px/18.2px 'Liberation Sans', sans-serif;color:#1e1e1e;white-space:pre;left:1235.00px;width:800px;text-align:center;-webkit-text-stroke:0.75px #1e1e1e;">25</div>
<div style="top:494.69px;font:bold 18.2px/18.2px 'Liberation Sans', sans-serif;color:#1e1e1e;white-space:pre;left:1287.00px;width:800px;text-align:center;-webkit-text-stroke:0.75px #1e1e1e;">26</div>
<div style="top:494.69px;font:bold 18.2px/18.2px 'Liberation Sans', sans-serif;color:#1e1e1e;white-space:pre;left:1341.00px;width:800px;text-align:center;-webkit-text-stroke:0.75px #1e1e1e;">29</div>
<div style="top:494.69px;font:bold 18.2px/18.2px 'Liberation Sans', sans-serif;color:#1e1e1e;white-space:pre;left:1393.00px;width:800px;text-align:center;-webkit-text-stroke:0.75px #1e1e1e;">30</div>
<div style="top:568.69px;font:bold 18.2px/18.2px 'Liberation Sans', sans-serif;color:#1e1e1e;white-space:pre;left:392.00px;width:800px;text-align:center;-webkit-text-stroke:0.75px #1e1e1e;">1</div>
<div style="top:568.69px;font:bold 18.2px/18.2px 'Liberation Sans', sans-serif;color:#1e1e1e;white-space:pre;left:444.50px;width:800px;text-align:center;-webkit-text-stroke:0.75px #1e1e1e;">2</div>
<div style="top:568.69px;font:bold 18.2px/18.2px 'Liberation Sans', sans-serif;color:#1e1e1e;white-space:pre;left:496.00px;width:800px;text-align:center;-webkit-text-stroke:0.75px #1e1e1e;">3</div>
<div style="top:568.69px;font:bold 18.2px/18.2px 'Liberation Sans', sans-serif;color:#1e1e1e;white-space:pre;left:550.50px;width:800px;text-align:center;-webkit-text-stroke:0.75px #1e1e1e;">6</div>
<div style="top:568.69px;font:bold 18.2px/18.2px 'Liberation Sans', sans-serif;color:#1e1e1e;white-space:pre;left:603.00px;width:800px;text-align:center;-webkit-text-stroke:0.75px #1e1e1e;">7</div>
<div style="top:568.69px;font:bold 18.2px/18.2px 'Liberation Sans', sans-serif;color:#1e1e1e;white-space:pre;left:656.00px;width:800px;text-align:center;-webkit-text-stroke:0.75px #1e1e1e;">8</div>
<div style="top:568.69px;font:bold 18.2px/18.2px 'Liberation Sans', sans-serif;color:#1e1e1e;white-space:pre;left:709.00px;width:800px;text-align:center;-webkit-text-stroke:0.75px #1e1e1e;">9</div>
<div style="top:568.69px;font:bold 18.2px/18.2px 'Liberation Sans', sans-serif;color:#1e1e1e;white-space:pre;left:760.50px;width:800px;text-align:center;-webkit-text-stroke:0.75px #1e1e1e;">10</div>
<div style="left:1151.96px;top:596.35px;font:bold 31.54px/31.54px 'Liberation Sans', sans-serif;color:#1e1e1e;white-space:pre;-webkit-text-stroke:0.9px #1e1e1e;">P</div>
<div style="top:568.69px;font:bold 18.2px/18.2px 'Liberation Sans', sans-serif;color:#1e1e1e;white-space:pre;left:814.00px;width:800px;text-align:center;-webkit-text-stroke:0.75px #1e1e1e;">13</div>
<div style="left:1201.06px;top:589.48px;font:bold 31.91px/31.91px 'Liberation Serif', serif;color:#e1202a;white-space:pre;-webkit-text-stroke:0.4px #e1202a;">H</div>
<div style="top:568.69px;font:bold 18.2px/18.2px 'Liberation Sans', sans-serif;color:#1e1e1e;white-space:pre;left:866.00px;width:800px;text-align:center;-webkit-text-stroke:0.75px #1e1e1e;">14</div>
<div style="top:568.69px;font:bold 18.2px/18.2px 'Liberation Sans', sans-serif;color:#1e1e1e;white-space:pre;left:919.00px;width:800px;text-align:center;-webkit-text-stroke:0.75px #1e1e1e;">15</div>
<div style="top:568.69px;font:bold 18.2px/18.2px 'Liberation Sans', sans-serif;color:#1e1e1e;white-space:pre;left:971.50px;width:800px;text-align:center;-webkit-text-stroke:0.75px #1e1e1e;">16</div>
<div style="top:568.69px;font:bold 18.2px/18.2px 'Liberation Sans', sans-serif;color:#1e1e1e;white-space:pre;left:1023.00px;width:800px;text-align:center;-webkit-text-stroke:0.75px #1e1e1e;">17</div>
<div style="top:568.69px;font:bold 18.2px/18.2px 'Liberation Sans', sans-serif;color:#1e1e1e;white-space:pre;left:1077.50px;width:800px;text-align:center;-webkit-text-stroke:0.75px #1e1e1e;">20</div>
<div style="top:568.69px;font:bold 18.2px/18.2px 'Liberation Sans', sans-serif;color:#1e1e1e;white-space:pre;left:1130.00px;width:800px;text-align:center;-webkit-text-stroke:0.75px #1e1e1e;">21</div>
<div style="top:568.69px;font:bold 18.2px/18.2px 'Liberation Sans', sans-serif;color:#1e1e1e;white-space:pre;left:1182.50px;width:800px;text-align:center;-webkit-text-stroke:0.75px #1e1e1e;">22</div>
<div style="top:568.69px;font:bold 18.2px/18.2px 'Liberation Sans', sans-serif;color:#1e1e1e;white-space:pre;left:1235.00px;width:800px;text-align:center;-webkit-text-stroke:0.75px #1e1e1e;">23</div>
<div style="top:568.69px;font:bold 18.2px/18.2px 'Liberation Sans', sans-serif;color:#1e1e1e;white-space:pre;left:1287.00px;width:800px;text-align:center;-webkit-text-stroke:0.75px #1e1e1e;">24</div>
<div style="top:568.69px;font:bold 18.2px/18.2px 'Liberation Sans', sans-serif;color:#1e1e1e;white-space:pre;left:1341.00px;width:800px;text-align:center;-webkit-text-stroke:0.75px #1e1e1e;">27</div>
<div style="top:568.69px;font:bold 18.2px/18.2px 'Liberation Sans', sans-serif;color:#1e1e1e;white-space:pre;left:1393.00px;width:800px;text-align:center;-webkit-text-stroke:0.75px #1e1e1e;">28</div>
<div style="top:568.69px;font:bold 18.2px/18.2px 'Liberation Sans', sans-serif;color:#1e1e1e;white-space:pre;left:1446.00px;width:800px;text-align:center;-webkit-text-stroke:0.75px #1e1e1e;">29</div>
<div style="top:568.69px;font:bold 18.2px/18.2px 'Liberation Sans', sans-serif;color:#1e1e1e;white-space:pre;left:1499.00px;width:800px;text-align:center;-webkit-text-stroke:0.75px #1e1e1e;">30</div>
<div style="top:568.69px;font:bold 18.2px/18.2px 'Liberation Sans', sans-serif;color:#1e1e1e;white-space:pre;left:1550.50px;width:800px;text-align:center;-webkit-text-stroke:0.75px #1e1e1e;">31</div>
<div style="top:642.69px;font:bold 18.2px/18.2px 'Liberation Sans', sans-serif;color:#1e1e1e;white-space:pre;left:287.00px;width:800px;text-align:center;-webkit-text-stroke:0.75px #1e1e1e;">3</div>
<div style="top:642.69px;font:bold 18.2px/18.2px 'Liberation Sans', sans-serif;color:#1e1e1e;white-space:pre;left:339.00px;width:800px;text-align:center;-webkit-text-stroke:0.75px #1e1e1e;">4</div>
<div style="top:642.69px;font:bold 18.2px/18.2px 'Liberation Sans', sans-serif;color:#1e1e1e;white-space:pre;left:392.00px;width:800px;text-align:center;-webkit-text-stroke:0.75px #1e1e1e;">5</div>
<div style="top:642.69px;font:bold 18.2px/18.2px 'Liberation Sans', sans-serif;color:#1e1e1e;white-space:pre;left:444.50px;width:800px;text-align:center;-webkit-text-stroke:0.75px #1e1e1e;">6</div>
<div style="top:642.69px;font:bold 18.2px/18.2px 'Liberation Sans', sans-serif;color:#1e1e1e;white-space:pre;left:496.00px;width:800px;text-align:center;-webkit-text-stroke:0.75px #1e1e1e;">7</div>
<div style="top:642.69px;font:bold 18.2px/18.2px 'Liberation Sans', sans-serif;color:#1e1e1e;white-space:pre;left:550.50px;width:800px;text-align:center;-webkit-text-stroke:0.75px #1e1e1e;">10</div>
<div style="top:642.69px;font:bold 18.2px/18.2px 'Liberation Sans', sans-serif;color:#1e1e1e;white-space:pre;left:603.00px;width:800px;text-align:center;-webkit-text-stroke:0.75px #1e1e1e;">11</div>
<div style="top:642.69px;font:bold 18.2px/18.2px 'Liberation Sans', sans-serif;color:#1e1e1e;white-space:pre;left:656.00px;width:800px;text-align:center;-webkit-text-stroke:0.75px #1e1e1e;">12</div>
<div style="top:642.69px;font:bold 18.2px/18.2px 'Liberation Sans', sans-serif;color:#1e1e1e;white-space:pre;left:709.00px;width:800px;text-align:center;-webkit-text-stroke:0.75px #1e1e1e;">13</div>
<div style="top:642.69px;font:bold 18.2px/18.2px 'Liberation Sans', sans-serif;color:#1e1e1e;white-space:pre;left:760.50px;width:800px;text-align:center;-webkit-text-stroke:0.75px #1e1e1e;">14</div>
<div style="left:1152.54px;top:669.34px;font:bold 34.74px/34.74px 'Liberation Sans', sans-serif;color:#1e1e1e;white-space:pre;-webkit-text-stroke:0.9px #1e1e1e;">P</div>
<div style="top:642.69px;font:bold 18.2px/18.2px 'Liberation Sans', sans-serif;color:#1e1e1e;white-space:pre;left:814.00px;width:800px;text-align:center;-webkit-text-stroke:0.75px #1e1e1e;">17</div>
<div style="top:642.69px;font:bold 18.2px/18.2px 'Liberation Sans', sans-serif;color:#1e1e1e;white-space:pre;left:866.00px;width:800px;text-align:center;-webkit-text-stroke:0.75px #1e1e1e;">18</div>
<div style="top:642.69px;font:bold 18.2px/18.2px 'Liberation Sans', sans-serif;color:#1e1e1e;white-space:pre;left:919.00px;width:800px;text-align:center;-webkit-text-stroke:0.75px #1e1e1e;">19</div>
<div style="top:642.69px;font:bold 18.2px/18.2px 'Liberation Sans', sans-serif;color:#1e1e1e;white-space:pre;left:971.50px;width:800px;text-align:center;-webkit-text-stroke:0.75px #1e1e1e;">20</div>
<div style="top:642.69px;font:bold 18.2px/18.2px 'Liberation Sans', sans-serif;color:#1e1e1e;white-space:pre;left:1023.00px;width:800px;text-align:center;-webkit-text-stroke:0.75px #1e1e1e;">21</div>
<div style="top:642.69px;font:bold 18.2px/18.2px 'Liberation Sans', sans-serif;color:#1e1e1e;white-space:pre;left:1077.50px;width:800px;text-align:center;-webkit-text-stroke:0.75px #1e1e1e;">24</div>
<div style="top:642.69px;font:bold 18.2px/18.2px 'Liberation Sans', sans-serif;color:#1e1e1e;white-space:pre;left:1130.00px;width:800px;text-align:center;-webkit-text-stroke:0.75px #1e1e1e;">25</div>
<div style="top:642.69px;font:bold 18.2px/18.2px 'Liberation Sans', sans-serif;color:#1e1e1e;white-space:pre;left:1182.50px;width:800px;text-align:center;-webkit-text-stroke:0.75px #1e1e1e;">26</div>
<div style="top:642.69px;font:bold 18.2px/18.2px 'Liberation Sans', sans-serif;color:#1e1e1e;white-space:pre;left:1235.00px;width:800px;text-align:center;-webkit-text-stroke:0.75px #1e1e1e;">27</div>
<div style="top:642.69px;font:bold 18.2px/18.2px 'Liberation Sans', sans-serif;color:#1e1e1e;white-space:pre;left:1287.00px;width:800px;text-align:center;-webkit-text-stroke:0.75px #1e1e1e;">28</div>
<div style="top:716.69px;font:bold 18.2px/18.2px 'Liberation Sans', sans-serif;color:#1e1e1e;white-space:pre;left:287.00px;width:800px;text-align:center;-webkit-text-stroke:0.75px #1e1e1e;">1</div>
<div style="top:716.69px;font:bold 18.2px/18.2px 'Liberation Sans', sans-serif;color:#1e1e1e;white-space:pre;left:339.00px;width:800px;text-align:center;-webkit-text-stroke:0.75px #1e1e1e;">2</div>
<div style="top:716.69px;font:bold 18.2px/18.2px 'Liberation Sans', sans-serif;color:#1e1e1e;white-space:pre;left:392.00px;width:800px;text-align:center;-webkit-text-stroke:0.75px #1e1e1e;">3</div>
<div style="top:716.69px;font:bold 18.2px/18.2px 'Liberation Sans', sans-serif;color:#1e1e1e;white-space:pre;left:444.50px;width:800px;text-align:center;-webkit-text-stroke:0.75px #1e1e1e;">4</div>
<div style="top:716.69px;font:bold 18.2px/18.2px 'Liberation Sans', sans-serif;color:#1e1e1e;white-space:pre;left:496.00px;width:800px;text-align:center;-webkit-text-stroke:0.75px #1e1e1e;">5</div>
<div style="top:716.69px;font:bold 18.2px/18.2px 'Liberation Sans', sans-serif;color:#1e1e1e;white-space:pre;left:550.50px;width:800px;text-align:center;-webkit-text-stroke:0.75px #1e1e1e;">8</div>
<div style="top:716.69px;font:bold 18.2px/18.2px 'Liberation Sans', sans-serif;color:#1e1e1e;white-space:pre;left:603.00px;width:800px;text-align:center;-webkit-text-stroke:0.75px #1e1e1e;">9</div>
<div style="top:716.69px;font:bold 18.2px/18.2px 'Liberation Sans', sans-serif;color:#1e1e1e;white-space:pre;left:656.00px;width:800px;text-align:center;-webkit-text-stroke:0.75px #1e1e1e;">10</div>
<div style="top:716.69px;font:bold 18.2px/18.2px 'Liberation Sans', sans-serif;color:#1e1e1e;white-space:pre;left:709.00px;width:800px;text-align:center;-webkit-text-stroke:0.75px #1e1e1e;">11</div>
<div style="top:716.69px;font:bold 18.2px/18.2px 'Liberation Sans', sans-serif;color:#1e1e1e;white-space:pre;left:760.50px;width:800px;text-align:center;-webkit-text-stroke:0.75px #1e1e1e;">12</div>
<div style="top:716.69px;font:bold 18.2px/18.2px 'Liberation Sans', sans-serif;color:#1e1e1e;white-space:pre;left:814.00px;width:800px;text-align:center;-webkit-text-stroke:0.75px #1e1e1e;">15</div>
<div style="top:716.69px;font:bold 18.2px/18.2px 'Liberation Sans', sans-serif;color:#1e1e1e;white-space:pre;left:866.00px;width:800px;text-align:center;-webkit-text-stroke:0.75px #1e1e1e;">16</div>
<div style="top:716.69px;font:bold 18.2px/18.2px 'Liberation Sans', sans-serif;color:#1e1e1e;white-space:pre;left:919.00px;width:800px;text-align:center;-webkit-text-stroke:0.75px #1e1e1e;">17</div>
<div style="top:716.69px;font:bold 18.2px/18.2px 'Liberation Sans', sans-serif;color:#1e1e1e;white-space:pre;left:971.50px;width:800px;text-align:center;-webkit-text-stroke:0.75px #1e1e1e;">18</div>
<div style="top:716.69px;font:bold 18.2px/18.2px 'Liberation Sans', sans-serif;color:#1e1e1e;white-space:pre;left:1023.00px;width:800px;text-align:center;-webkit-text-stroke:0.75px #1e1e1e;">19</div>
<div style="top:716.69px;font:bold 18.2px/18.2px 'Liberation Sans', sans-serif;color:#1e1e1e;white-space:pre;left:1077.50px;width:800px;text-align:center;-webkit-text-stroke:0.75px #1e1e1e;">22</div>
<div style="left:1466.96px;top:747.56px;font:bold 31.45px/31.45px 'Liberation Serif', serif;color:#e1202a;white-space:pre;-webkit-text-stroke:0.4px #e1202a;">B</div>
<div style="top:716.69px;font:bold 18.2px/18.2px 'Liberation Sans', sans-serif;color:#1e1e1e;white-space:pre;left:1130.00px;width:800px;text-align:center;-webkit-text-stroke:0.75px #1e1e1e;">23</div>
<div style="left:1519.46px;top:747.56px;font:bold 31.45px/31.45px 'Liberation Serif', serif;color:#e1202a;white-space:pre;-webkit-text-stroke:0.4px #e1202a;">B</div>
<div style="top:716.69px;font:bold 18.2px/18.2px 'Liberation Sans', sans-serif;color:#1e1e1e;white-space:pre;left:1182.50px;width:800px;text-align:center;-webkit-text-stroke:0.75px #1e1e1e;">24</div>
<div style="left:1571.96px;top:747.56px;font:bold 31.45px/31.45px 'Liberation Serif', serif;color:#e1202a;white-space:pre;-webkit-text-stroke:0.4px #e1202a;">B</div>
<div style="top:716.69px;font:bold 18.2px/18.2px 'Liberation Sans', sans-serif;color:#1e1e1e;white-space:pre;left:1235.00px;width:800px;text-align:center;-webkit-text-stroke:0.75px #1e1e1e;">25</div>
<div style="left:1624.36px;top:747.56px;font:bold 31.45px/31.45px 'Liberation Serif', serif;color:#e1202a;white-space:pre;-webkit-text-stroke:0.4px #e1202a;">B</div>
<div style="top:716.69px;font:bold 18.2px/18.2px 'Liberation Sans', sans-serif;color:#1e1e1e;white-space:pre;left:1287.00px;width:800px;text-align:center;-webkit-text-stroke:0.75px #1e1e1e;">26</div>
<div style="left:1677.36px;top:747.56px;font:bold 31.45px/31.45px 'Liberation Serif', serif;color:#e1202a;white-space:pre;-webkit-text-stroke:0.4px #e1202a;">B</div>
<div style="top:716.69px;font:bold 18.2px/18.2px 'Liberation Sans', sans-serif;color:#1e1e1e;white-space:pre;left:1341.00px;width:800px;text-align:center;-webkit-text-stroke:0.75px #1e1e1e;">29</div>
<div style="left:1729.66px;top:747.56px;font:bold 31.45px/31.45px 'Liberation Serif', serif;color:#e1202a;white-space:pre;-webkit-text-stroke:0.4px #e1202a;">B</div>
<div style="top:716.69px;font:bold 18.2px/18.2px 'Liberation Sans', sans-serif;color:#1e1e1e;white-space:pre;left:1393.00px;width:800px;text-align:center;-webkit-text-stroke:0.75px #1e1e1e;">30</div>
<div style="left:1782.26px;top:747.56px;font:bold 31.45px/31.45px 'Liberation Serif', serif;color:#e1202a;white-space:pre;-webkit-text-stroke:0.4px #e1202a;">B</div>
<div style="top:716.69px;font:bold 18.2px/18.2px 'Liberation Sans', sans-serif;color:#1e1e1e;white-space:pre;left:1446.00px;width:800px;text-align:center;-webkit-text-stroke:0.75px #1e1e1e;">31</div>
<div style="left:1834.56px;top:747.56px;font:bold 31.45px/31.45px 'Liberation Serif', serif;color:#e1202a;white-space:pre;-webkit-text-stroke:0.4px #e1202a;">B</div>
<div style="top:791.69px;font:bold 18.2px/18.2px 'Liberation Sans', sans-serif;color:#1e1e1e;white-space:pre;left:444.50px;width:800px;text-align:center;-webkit-text-stroke:0.75px #1e1e1e;">1</div>
<div style="left:834.41px;top:817.64px;font:bold 30.99px/30.99px 'Liberation Serif', serif;color:#e1202a;white-space:pre;-webkit-text-stroke:0.4px #e1202a;">B</div>
<div style="top:791.69px;font:bold 18.2px/18.2px 'Liberation Sans', sans-serif;color:#1e1e1e;white-space:pre;left:496.00px;width:800px;text-align:center;-webkit-text-stroke:0.75px #1e1e1e;">2</div>
<div style="left:886.71px;top:819.32px;font:bold 32.21px/32.21px 'Liberation Serif', serif;color:#e1202a;white-space:pre;-webkit-text-stroke:0.4px #e1202a;">B</div>
<div style="top:791.69px;font:bold 18.2px/18.2px 'Liberation Sans', sans-serif;color:#1e1e1e;white-space:pre;left:550.50px;width:800px;text-align:center;-webkit-text-stroke:0.75px #1e1e1e;">5</div>
<div style="top:791.69px;font:bold 18.2px/18.2px 'Liberation Sans', sans-serif;color:#1e1e1e;white-space:pre;left:603.00px;width:800px;text-align:center;-webkit-text-stroke:0.75px #1e1e1e;">6</div>
<div style="top:791.69px;font:bold 18.2px/18.2px 'Liberation Sans', sans-serif;color:#1e1e1e;white-space:pre;left:656.00px;width:800px;text-align:center;-webkit-text-stroke:0.75px #1e1e1e;">7</div>
<div style="top:791.69px;font:bold 18.2px/18.2px 'Liberation Sans', sans-serif;color:#1e1e1e;white-space:pre;left:709.00px;width:800px;text-align:center;-webkit-text-stroke:0.75px #1e1e1e;">8</div>
<div style="top:791.69px;font:bold 18.2px/18.2px 'Liberation Sans', sans-serif;color:#1e1e1e;white-space:pre;left:760.50px;width:800px;text-align:center;-webkit-text-stroke:0.75px #1e1e1e;">9</div>
<div style="top:791.69px;font:bold 18.2px/18.2px 'Liberation Sans', sans-serif;color:#1e1e1e;white-space:pre;left:814.00px;width:800px;text-align:center;-webkit-text-stroke:0.75px #1e1e1e;">12</div>
<div style="top:791.69px;font:bold 18.2px/18.2px 'Liberation Sans', sans-serif;color:#1e1e1e;white-space:pre;left:866.00px;width:800px;text-align:center;-webkit-text-stroke:0.75px #1e1e1e;">13</div>
<div style="top:791.69px;font:bold 18.2px/18.2px 'Liberation Sans', sans-serif;color:#1e1e1e;white-space:pre;left:919.00px;width:800px;text-align:center;-webkit-text-stroke:0.75px #1e1e1e;">14</div>
<div style="top:791.69px;font:bold 18.2px/18.2px 'Liberation Sans', sans-serif;color:#1e1e1e;white-space:pre;left:971.50px;width:800px;text-align:center;-webkit-text-stroke:0.75px #1e1e1e;">15</div>
<div style="top:791.69px;font:bold 18.2px/18.2px 'Liberation Sans', sans-serif;color:#1e1e1e;white-space:pre;left:1023.00px;width:800px;text-align:center;-webkit-text-stroke:0.75px #1e1e1e;">16</div>
<div style="top:791.69px;font:bold 18.2px/18.2px 'Liberation Sans', sans-serif;color:#1e1e1e;white-space:pre;left:1077.50px;width:800px;text-align:center;-webkit-text-stroke:0.75px #1e1e1e;">19</div>
<div style="top:791.69px;font:bold 18.2px/18.2px 'Liberation Sans', sans-serif;color:#1e1e1e;white-space:pre;left:1130.00px;width:800px;text-align:center;-webkit-text-stroke:0.75px #1e1e1e;">20</div>
<div style="top:791.69px;font:bold 18.2px/18.2px 'Liberation Sans', sans-serif;color:#1e1e1e;white-space:pre;left:1182.50px;width:800px;text-align:center;-webkit-text-stroke:0.75px #1e1e1e;">21</div>
<div style="top:791.69px;font:bold 18.2px/18.2px 'Liberation Sans', sans-serif;color:#1e1e1e;white-space:pre;left:1235.00px;width:800px;text-align:center;-webkit-text-stroke:0.75px #1e1e1e;">22</div>
<div style="left:1626.54px;top:819.45px;font:bold 31.54px/31.54px 'Liberation Sans', sans-serif;color:#1e1e1e;white-space:pre;-webkit-text-stroke:0.9px #1e1e1e;">E</div>
<div style="top:791.69px;font:bold 18.2px/18.2px 'Liberation Sans', sans-serif;color:#1e1e1e;white-space:pre;left:1287.00px;width:800px;text-align:center;-webkit-text-stroke:0.75px #1e1e1e;">23</div>
<div style="left:1673.24px;top:819.45px;font:bold 31.54px/31.54px 'Liberation Sans', sans-serif;color:#1e1e1e;white-space:pre;-webkit-text-stroke:0.9px #1e1e1e;">E</div>
<div style="top:791.69px;font:bold 18.2px/18.2px 'Liberation Sans', sans-serif;color:#1e1e1e;white-space:pre;left:1341.00px;width:800px;text-align:center;-webkit-text-stroke:0.75px #1e1e1e;">26</div>
<div style="left:1728.34px;top:819.45px;font:bold 31.54px/31.54px 'Liberation Sans', sans-serif;color:#1e1e1e;white-space:pre;-webkit-text-stroke:0.9px #1e1e1e;">E</div>
<div style="top:791.69px;font:bold 18.2px/18.2px 'Liberation Sans', sans-serif;color:#1e1e1e;white-space:pre;left:1393.00px;width:800px;text-align:center;-webkit-text-stroke:0.75px #1e1e1e;">27</div>
<div style="left:1775.14px;top:819.45px;font:bold 31.54px/31.54px 'Liberation Sans', sans-serif;color:#1e1e1e;white-space:pre;-webkit-text-stroke:0.9px #1e1e1e;">E</div>
<div style="top:791.69px;font:bold 18.2px/18.2px 'Liberation Sans', sans-serif;color:#1e1e1e;white-space:pre;left:1446.00px;width:800px;text-align:center;-webkit-text-stroke:0.75px #1e1e1e;">28</div>
<div style="left:1830.34px;top:819.45px;font:bold 31.54px/31.54px 'Liberation Sans', sans-serif;color:#1e1e1e;white-space:pre;-webkit-text-stroke:0.9px #1e1e1e;">E</div>
<div style="top:791.69px;font:bold 18.2px/18.2px 'Liberation Sans', sans-serif;color:#1e1e1e;white-space:pre;left:1499.00px;width:800px;text-align:center;-webkit-text-stroke:0.75px #1e1e1e;">29</div>
<div style="top:791.69px;font:bold 18.2px/18.2px 'Liberation Sans', sans-serif;color:#1e1e1e;white-space:pre;left:1550.50px;width:800px;text-align:center;-webkit-text-stroke:0.75px #1e1e1e;">30</div>
<div style="left:1933.07px;top:821.28px;font:bold 30.09px/30.09px 'Liberation Sans', sans-serif;color:#1e1e1e;white-space:pre;-webkit-text-stroke:0.9px #1e1e1e;">P</div>
<div style="top:865.69px;font:bold 18.2px/18.2px 'Liberation Sans', sans-serif;color:#1e1e1e;white-space:pre;left:287.00px;width:800px;text-align:center;-webkit-text-stroke:0.75px #1e1e1e;">2</div>
<div style="top:865.69px;font:bold 18.2px/18.2px 'Liberation Sans', sans-serif;color:#1e1e1e;white-space:pre;left:339.00px;width:800px;text-align:center;-webkit-text-stroke:0.75px #1e1e1e;">3</div>
<div style="top:865.69px;font:bold 18.2px/18.2px 'Liberation Sans', sans-serif;color:#1e1e1e;white-space:pre;left:392.00px;width:800px;text-align:center;-webkit-text-stroke:0.75px #1e1e1e;">4</div>
<div style="top:865.69px;font:bold 18.2px/18.2px 'Liberation Sans', sans-serif;color:#1e1e1e;white-space:pre;left:444.50px;width:800px;text-align:center;-webkit-text-stroke:0.75px #1e1e1e;">5</div>
<div style="top:865.69px;font:bold 18.2px/18.2px 'Liberation Sans', sans-serif;color:#1e1e1e;white-space:pre;left:496.00px;width:800px;text-align:center;-webkit-text-stroke:0.75px #1e1e1e;">6</div>
<div style="top:865.69px;font:bold 18.2px/18.2px 'Liberation Sans', sans-serif;color:#1e1e1e;white-space:pre;left:550.50px;width:800px;text-align:center;-webkit-text-stroke:0.75px #1e1e1e;">9</div>
<div style="top:865.69px;font:bold 18.2px/18.2px 'Liberation Sans', sans-serif;color:#1e1e1e;white-space:pre;left:603.00px;width:800px;text-align:center;-webkit-text-stroke:0.75px #1e1e1e;">10</div>
<div style="top:865.69px;font:bold 18.2px/18.2px 'Liberation Sans', sans-serif;color:#1e1e1e;white-space:pre;left:656.00px;width:800px;text-align:center;-webkit-text-stroke:0.75px #1e1e1e;">11</div>
<div style="top:865.69px;font:bold 18.2px/18.2px 'Liberation Sans', sans-serif;color:#1e1e1e;white-space:pre;left:709.00px;width:800px;text-align:center;-webkit-text-stroke:0.75px #1e1e1e;">12</div>
<div style="top:865.69px;font:bold 18.2px/18.2px 'Liberation Sans', sans-serif;color:#1e1e1e;white-space:pre;left:760.50px;width:800px;text-align:center;-webkit-text-stroke:0.75px #1e1e1e;">13</div>
<div style="top:865.69px;font:bold 18.2px/18.2px 'Liberation Sans', sans-serif;color:#1e1e1e;white-space:pre;left:814.00px;width:800px;text-align:center;-webkit-text-stroke:0.75px #1e1e1e;">16</div>
<div style="left:1200.74px;top:887.72px;font:bold 32.21px/32.21px 'Liberation Serif', serif;color:#e1202a;white-space:pre;-webkit-text-stroke:0.4px #e1202a;">H</div>
<div style="top:865.69px;font:bold 18.2px/18.2px 'Liberation Sans', sans-serif;color:#1e1e1e;white-space:pre;left:866.00px;width:800px;text-align:center;-webkit-text-stroke:0.75px #1e1e1e;">17</div>
<div style="top:865.69px;font:bold 18.2px/18.2px 'Liberation Sans', sans-serif;color:#1e1e1e;white-space:pre;left:919.00px;width:800px;text-align:center;-webkit-text-stroke:0.75px #1e1e1e;">18</div>
<div style="top:865.69px;font:bold 18.2px/18.2px 'Liberation Sans', sans-serif;color:#1e1e1e;white-space:pre;left:971.50px;width:800px;text-align:center;-webkit-text-stroke:0.75px #1e1e1e;">19</div>
<div style="top:865.69px;font:bold 18.2px/18.2px 'Liberation Sans', sans-serif;color:#1e1e1e;white-space:pre;left:1023.00px;width:800px;text-align:center;-webkit-text-stroke:0.75px #1e1e1e;">20</div>
<div style="top:865.69px;font:bold 18.2px/18.2px 'Liberation Sans', sans-serif;color:#1e1e1e;white-space:pre;left:1077.50px;width:800px;text-align:center;-webkit-text-stroke:0.75px #1e1e1e;">23</div>
<div style="top:865.69px;font:bold 18.2px/18.2px 'Liberation Sans', sans-serif;color:#1e1e1e;white-space:pre;left:1130.00px;width:800px;text-align:center;-webkit-text-stroke:0.75px #1e1e1e;">24</div>
<div style="top:865.69px;font:bold 18.2px/18.2px 'Liberation Sans', sans-serif;color:#1e1e1e;white-space:pre;left:1182.50px;width:800px;text-align:center;-webkit-text-stroke:0.75px #1e1e1e;">25</div>
<div style="top:865.69px;font:bold 18.2px/18.2px 'Liberation Sans', sans-serif;color:#1e1e1e;white-space:pre;left:1235.00px;width:800px;text-align:center;-webkit-text-stroke:0.75px #1e1e1e;">26</div>
<div style="top:865.69px;font:bold 18.2px/18.2px 'Liberation Sans', sans-serif;color:#1e1e1e;white-space:pre;left:1287.00px;width:800px;text-align:center;-webkit-text-stroke:0.75px #1e1e1e;">27</div>
<div style="top:940.69px;font:bold 18.2px/18.2px 'Liberation Sans', sans-serif;color:#1e1e1e;white-space:pre;left:287.00px;width:800px;text-align:center;-webkit-text-stroke:0.75px #1e1e1e;">2</div>
<div style="top:940.69px;font:bold 18.2px/18.2px 'Liberation Sans', sans-serif;color:#1e1e1e;white-space:pre;left:339.00px;width:800px;text-align:center;-webkit-text-stroke:0.75px #1e1e1e;">3</div>
<div style="top:940.69px;font:bold 18.2px/18.2px 'Liberation Sans', sans-serif;color:#1e1e1e;white-space:pre;left:392.00px;width:800px;text-align:center;-webkit-text-stroke:0.75px #1e1e1e;">4</div>
<div style="top:940.69px;font:bold 18.2px/18.2px 'Liberation Sans', sans-serif;color:#1e1e1e;white-space:pre;left:444.50px;width:800px;text-align:center;-webkit-text-stroke:0.75px #1e1e1e;">5</div>
<div style="top:940.69px;font:bold 18.2px/18.2px 'Liberation Sans', sans-serif;color:#1e1e1e;white-space:pre;left:496.00px;width:800px;text-align:center;-webkit-text-stroke:0.75px #1e1e1e;">6</div>
<div style="top:940.69px;font:bold 18.2px/18.2px 'Liberation Sans', sans-serif;color:#1e1e1e;white-space:pre;left:550.50px;width:800px;text-align:center;-webkit-text-stroke:0.75px #1e1e1e;">9</div>
<div style="top:940.69px;font:bold 18.2px/18.2px 'Liberation Sans', sans-serif;color:#1e1e1e;white-space:pre;left:603.00px;width:800px;text-align:center;-webkit-text-stroke:0.75px #1e1e1e;">10</div>
<div style="top:940.69px;font:bold 18.2px/18.2px 'Liberation Sans', sans-serif;color:#1e1e1e;white-space:pre;left:656.00px;width:800px;text-align:center;-webkit-text-stroke:0.75px #1e1e1e;">11</div>
<div style="top:940.69px;font:bold 18.2px/18.2px 'Liberation Sans', sans-serif;color:#1e1e1e;white-space:pre;left:709.00px;width:800px;text-align:center;-webkit-text-stroke:0.75px #1e1e1e;">12</div>
<div style="top:940.69px;font:bold 18.2px/18.2px 'Liberation Sans', sans-serif;color:#1e1e1e;white-space:pre;left:760.50px;width:800px;text-align:center;-webkit-text-stroke:0.75px #1e1e1e;">13</div>
<div style="top:940.69px;font:bold 18.2px/18.2px 'Liberation Sans', sans-serif;color:#1e1e1e;white-space:pre;left:814.00px;width:800px;text-align:center;-webkit-text-stroke:0.75px #1e1e1e;">16</div>
<div style="left:1203.76px;top:971.99px;font:bold 29.62px/29.62px 'Liberation Serif', serif;color:#e1202a;white-space:pre;-webkit-text-stroke:0.4px #e1202a;">B</div>
<div style="top:940.69px;font:bold 18.2px/18.2px 'Liberation Sans', sans-serif;color:#1e1e1e;white-space:pre;left:866.00px;width:800px;text-align:center;-webkit-text-stroke:0.75px #1e1e1e;">17</div>
<div style="left:1256.26px;top:971.99px;font:bold 29.62px/29.62px 'Liberation Serif', serif;color:#e1202a;white-space:pre;-webkit-text-stroke:0.4px #e1202a;">B</div>
<div style="top:940.69px;font:bold 18.2px/18.2px 'Liberation Sans', sans-serif;color:#1e1e1e;white-space:pre;left:919.00px;width:800px;text-align:center;-webkit-text-stroke:0.75px #1e1e1e;">18</div>
<div style="left:1309.26px;top:971.99px;font:bold 29.62px/29.62px 'Liberation Serif', serif;color:#e1202a;white-space:pre;-webkit-text-stroke:0.4px #e1202a;">B</div>
<div style="top:940.69px;font:bold 18.2px/18.2px 'Liberation Sans', sans-serif;color:#1e1e1e;white-space:pre;left:971.50px;width:800px;text-align:center;-webkit-text-stroke:0.75px #1e1e1e;">19</div>
<div style="left:1361.96px;top:971.99px;font:bold 29.62px/29.62px 'Liberation Serif', serif;color:#e1202a;white-space:pre;-webkit-text-stroke:0.4px #e1202a;">B</div>
<div style="top:940.69px;font:bold 18.2px/18.2px 'Liberation Sans', sans-serif;color:#1e1e1e;white-space:pre;left:1023.00px;width:800px;text-align:center;-webkit-text-stroke:0.75px #1e1e1e;">20</div>
<div style="left:1414.36px;top:971.99px;font:bold 29.62px/29.62px 'Liberation Serif', serif;color:#e1202a;white-space:pre;-webkit-text-stroke:0.4px #e1202a;">B</div>
<div style="top:940.69px;font:bold 18.2px/18.2px 'Liberation Sans', sans-serif;color:#1e1e1e;white-space:pre;left:1077.50px;width:800px;text-align:center;-webkit-text-stroke:0.75px #1e1e1e;">23</div>
<div style="top:940.69px;font:bold 18.2px/18.2px 'Liberation Sans', sans-serif;color:#1e1e1e;white-space:pre;left:1130.00px;width:800px;text-align:center;-webkit-text-stroke:0.75px #1e1e1e;">24</div>
<div style="top:940.69px;font:bold 18.2px/18.2px 'Liberation Sans', sans-serif;color:#1e1e1e;white-space:pre;left:1182.50px;width:800px;text-align:center;-webkit-text-stroke:0.75px #1e1e1e;">25</div>
<div style="top:940.69px;font:bold 18.2px/18.2px 'Liberation Sans', sans-serif;color:#1e1e1e;white-space:pre;left:1235.00px;width:800px;text-align:center;-webkit-text-stroke:0.75px #1e1e1e;">26</div>
<div style="top:940.69px;font:bold 18.2px/18.2px 'Liberation Sans', sans-serif;color:#1e1e1e;white-space:pre;left:1287.00px;width:800px;text-align:center;-webkit-text-stroke:0.75px #1e1e1e;">27</div>
<div style="top:940.69px;font:bold 18.2px/18.2px 'Liberation Sans', sans-serif;color:#1e1e1e;white-space:pre;left:1341.00px;width:800px;text-align:center;-webkit-text-stroke:0.75px #1e1e1e;">30</div>
<div style="top:940.69px;font:bold 18.2px/18.2px 'Liberation Sans', sans-serif;color:#1e1e1e;white-space:pre;left:1393.00px;width:800px;text-align:center;-webkit-text-stroke:0.75px #1e1e1e;">31</div>
<div style="top:1014.69px;font:bold 18.2px/18.2px 'Liberation Sans', sans-serif;color:#1e1e1e;white-space:pre;left:392.00px;width:800px;text-align:center;-webkit-text-stroke:0.75px #1e1e1e;">1</div>
<div style="top:1014.69px;font:bold 18.2px/18.2px 'Liberation Sans', sans-serif;color:#1e1e1e;white-space:pre;left:444.50px;width:800px;text-align:center;-webkit-text-stroke:0.75px #1e1e1e;">2</div>
<div style="top:1014.69px;font:bold 18.2px/18.2px 'Liberation Sans', sans-serif;color:#1e1e1e;white-space:pre;left:496.00px;width:800px;text-align:center;-webkit-text-stroke:0.75px #1e1e1e;">3</div>
<div style="left:885.81px;top:1041.54px;font:bold 30.99px/30.99px 'Liberation Serif', serif;color:#e1202a;white-space:pre;-webkit-text-stroke:0.4px #e1202a;">H</div>
<div style="top:1014.69px;font:bold 18.2px/18.2px 'Liberation Sans', sans-serif;color:#1e1e1e;white-space:pre;left:550.50px;width:800px;text-align:center;-webkit-text-stroke:0.75px #1e1e1e;">6</div>
<div style="left:938.31px;top:1041.54px;font:bold 30.99px/30.99px 'Liberation Serif', serif;color:#e1202a;white-space:pre;-webkit-text-stroke:0.4px #e1202a;">H</div>
<div style="top:1014.69px;font:bold 18.2px/18.2px 'Liberation Sans', sans-serif;color:#1e1e1e;white-space:pre;left:603.00px;width:800px;text-align:center;-webkit-text-stroke:0.75px #1e1e1e;">7</div>
<div style="top:1014.69px;font:bold 18.2px/18.2px 'Liberation Sans', sans-serif;color:#1e1e1e;white-space:pre;left:656.00px;width:800px;text-align:center;-webkit-text-stroke:0.75px #1e1e1e;">8</div>
<div style="top:1014.69px;font:bold 18.2px/18.2px 'Liberation Sans', sans-serif;color:#1e1e1e;white-space:pre;left:709.00px;width:800px;text-align:center;-webkit-text-stroke:0.75px #1e1e1e;">9</div>
<div style="top:1014.69px;font:bold 18.2px/18.2px 'Liberation Sans', sans-serif;color:#1e1e1e;white-space:pre;left:760.50px;width:800px;text-align:center;-webkit-text-stroke:0.75px #1e1e1e;">10</div>
<div style="top:1014.69px;font:bold 18.2px/18.2px 'Liberation Sans', sans-serif;color:#1e1e1e;white-space:pre;left:814.00px;width:800px;text-align:center;-webkit-text-stroke:0.75px #1e1e1e;">13</div>
<div style="top:1014.69px;font:bold 18.2px/18.2px 'Liberation Sans', sans-serif;color:#1e1e1e;white-space:pre;left:866.00px;width:800px;text-align:center;-webkit-text-stroke:0.75px #1e1e1e;">14</div>
<div style="top:1014.69px;font:bold 18.2px/18.2px 'Liberation Sans', sans-serif;color:#1e1e1e;white-space:pre;left:919.00px;width:800px;text-align:center;-webkit-text-stroke:0.75px #1e1e1e;">15</div>
<div style="top:1014.69px;font:bold 18.2px/18.2px 'Liberation Sans', sans-serif;color:#1e1e1e;white-space:pre;left:971.50px;width:800px;text-align:center;-webkit-text-stroke:0.75px #1e1e1e;">16</div>
<div style="top:1014.69px;font:bold 18.2px/18.2px 'Liberation Sans', sans-serif;color:#1e1e1e;white-space:pre;left:1023.00px;width:800px;text-align:center;-webkit-text-stroke:0.75px #1e1e1e;">17</div>
<div style="left:1417.28px;top:1040.96px;font:bold 28.34px/28.34px 'Liberation Sans', sans-serif;color:#1e1e1e;white-space:pre;-webkit-text-stroke:0.9px #1e1e1e;">P</div>
<div style="top:1014.69px;font:bold 18.2px/18.2px 'Liberation Sans', sans-serif;color:#1e1e1e;white-space:pre;left:1077.50px;width:800px;text-align:center;-webkit-text-stroke:0.75px #1e1e1e;">20</div>
<div style="top:1014.69px;font:bold 18.2px/18.2px 'Liberation Sans', sans-serif;color:#1e1e1e;white-space:pre;left:1130.00px;width:800px;text-align:center;-webkit-text-stroke:0.75px #1e1e1e;">21</div>
<div style="top:1014.69px;font:bold 18.2px/18.2px 'Liberation Sans', sans-serif;color:#1e1e1e;white-space:pre;left:1182.50px;width:800px;text-align:center;-webkit-text-stroke:0.75px #1e1e1e;">22</div>
<div style="top:1014.69px;font:bold 18.2px/18.2px 'Liberation Sans', sans-serif;color:#1e1e1e;white-space:pre;left:1235.00px;width:800px;text-align:center;-webkit-text-stroke:0.75px #1e1e1e;">23</div>
<div style="top:1014.69px;font:bold 18.2px/18.2px 'Liberation Sans', sans-serif;color:#1e1e1e;white-space:pre;left:1287.00px;width:800px;text-align:center;-webkit-text-stroke:0.75px #1e1e1e;">24</div>
<div style="top:1014.69px;font:bold 18.2px/18.2px 'Liberation Sans', sans-serif;color:#1e1e1e;white-space:pre;left:1341.00px;width:800px;text-align:center;-webkit-text-stroke:0.75px #1e1e1e;">27</div>
<div style="top:1014.69px;font:bold 18.2px/18.2px 'Liberation Sans', sans-serif;color:#1e1e1e;white-space:pre;left:1393.00px;width:800px;text-align:center;-webkit-text-stroke:0.75px #1e1e1e;">28</div>
<div style="top:1014.69px;font:bold 18.2px/18.2px 'Liberation Sans', sans-serif;color:#1e1e1e;white-space:pre;left:1446.00px;width:800px;text-align:center;-webkit-text-stroke:0.75px #1e1e1e;">29</div>
<div style="top:1014.69px;font:bold 18.2px/18.2px 'Liberation Sans', sans-serif;color:#1e1e1e;white-space:pre;left:1499.00px;width:800px;text-align:center;-webkit-text-stroke:0.75px #1e1e1e;">30</div>
<div style="top:1089.69px;font:bold 18.2px/18.2px 'Liberation Sans', sans-serif;color:#1e1e1e;white-space:pre;left:496.00px;width:800px;text-align:center;-webkit-text-stroke:0.75px #1e1e1e;">1</div>
<div style="top:1089.69px;font:bold 18.2px/18.2px 'Liberation Sans', sans-serif;color:#1e1e1e;white-space:pre;left:550.50px;width:800px;text-align:center;-webkit-text-stroke:0.75px #1e1e1e;">4</div>
<div style="top:1089.69px;font:bold 18.2px/18.2px 'Liberation Sans', sans-serif;color:#1e1e1e;white-space:pre;left:603.00px;width:800px;text-align:center;-webkit-text-stroke:0.75px #1e1e1e;">5</div>
<div style="top:1089.69px;font:bold 18.2px/18.2px 'Liberation Sans', sans-serif;color:#1e1e1e;white-space:pre;left:656.00px;width:800px;text-align:center;-webkit-text-stroke:0.75px #1e1e1e;">6</div>
<div style="top:1089.69px;font:bold 18.2px/18.2px 'Liberation Sans', sans-serif;color:#1e1e1e;white-space:pre;left:709.00px;width:800px;text-align:center;-webkit-text-stroke:0.75px #1e1e1e;">7</div>
<div style="top:1089.69px;font:bold 18.2px/18.2px 'Liberation Sans', sans-serif;color:#1e1e1e;white-space:pre;left:760.50px;width:800px;text-align:center;-webkit-text-stroke:0.75px #1e1e1e;">8</div>
<div style="top:1089.69px;font:bold 18.2px/18.2px 'Liberation Sans', sans-serif;color:#1e1e1e;white-space:pre;left:814.00px;width:800px;text-align:center;-webkit-text-stroke:0.75px #1e1e1e;">11</div>
<div style="top:1089.69px;font:bold 18.2px/18.2px 'Liberation Sans', sans-serif;color:#1e1e1e;white-space:pre;left:866.00px;width:800px;text-align:center;-webkit-text-stroke:0.75px #1e1e1e;">12</div>
<div style="top:1089.69px;font:bold 18.2px/18.2px 'Liberation Sans', sans-serif;color:#1e1e1e;white-space:pre;left:919.00px;width:800px;text-align:center;-webkit-text-stroke:0.75px #1e1e1e;">13</div>
<div style="top:1089.69px;font:bold 18.2px/18.2px 'Liberation Sans', sans-serif;color:#1e1e1e;white-space:pre;left:971.50px;width:800px;text-align:center;-webkit-text-stroke:0.75px #1e1e1e;">14</div>
<div style="top:1089.69px;font:bold 18.2px/18.2px 'Liberation Sans', sans-serif;color:#1e1e1e;white-space:pre;left:1023.00px;width:800px;text-align:center;-webkit-text-stroke:0.75px #1e1e1e;">15</div>
<div style="top:1089.69px;font:bold 18.2px/18.2px 'Liberation Sans', sans-serif;color:#1e1e1e;white-space:pre;left:1077.50px;width:800px;text-align:center;-webkit-text-stroke:0.75px #1e1e1e;">18</div>
<div style="left:1464.87px;top:1116.57px;font:bold 30.84px/30.84px 'Liberation Serif', serif;color:#e1202a;white-space:pre;-webkit-text-stroke:0.4px #e1202a;">H</div>
<div style="top:1089.69px;font:bold 18.2px/18.2px 'Liberation Sans', sans-serif;color:#1e1e1e;white-space:pre;left:1130.00px;width:800px;text-align:center;-webkit-text-stroke:0.75px #1e1e1e;">19</div>
<div style="top:1089.69px;font:bold 18.2px/18.2px 'Liberation Sans', sans-serif;color:#1e1e1e;white-space:pre;left:1182.50px;width:800px;text-align:center;-webkit-text-stroke:0.75px #1e1e1e;">20</div>
<div style="top:1089.69px;font:bold 18.2px/18.2px 'Liberation Sans', sans-serif;color:#1e1e1e;white-space:pre;left:1235.00px;width:800px;text-align:center;-webkit-text-stroke:0.75px #1e1e1e;">21</div>
<div style="top:1089.69px;font:bold 18.2px/18.2px 'Liberation Sans', sans-serif;color:#1e1e1e;white-space:pre;left:1287.00px;width:800px;text-align:center;-webkit-text-stroke:0.75px #1e1e1e;">22</div>
<div style="top:1089.69px;font:bold 18.2px/18.2px 'Liberation Sans', sans-serif;color:#1e1e1e;white-space:pre;left:1341.00px;width:800px;text-align:center;-webkit-text-stroke:0.75px #1e1e1e;">25</div>
<div style="top:1089.69px;font:bold 18.2px/18.2px 'Liberation Sans', sans-serif;color:#1e1e1e;white-space:pre;left:1393.00px;width:800px;text-align:center;-webkit-text-stroke:0.75px #1e1e1e;">26</div>
<div style="top:1089.69px;font:bold 18.2px/18.2px 'Liberation Sans', sans-serif;color:#1e1e1e;white-space:pre;left:1446.00px;width:800px;text-align:center;-webkit-text-stroke:0.75px #1e1e1e;">27</div>
<div style="top:1089.69px;font:bold 18.2px/18.2px 'Liberation Sans', sans-serif;color:#1e1e1e;white-space:pre;left:1499.00px;width:800px;text-align:center;-webkit-text-stroke:0.75px #1e1e1e;">28</div>
<div style="left:1941.90px;top:1084.19px;font:bold 18.20px/18.20px 'Liberation Sans', sans-serif;color:#1e1e1e;white-space:pre;-webkit-text-stroke:0.75px #1e1e1e;">29</div>
<div style="left:1938.26px;top:1117.50px;font:bold 31.25px/31.25px 'Liberation Sans', sans-serif;color:#1e1e1e;white-space:pre;-webkit-text-stroke:0.9px #1e1e1e;">P</div>
<div style="top:1163.69px;font:bold 18.2px/18.2px 'Liberation Sans', sans-serif;color:#1e1e1e;white-space:pre;left:287.00px;width:800px;text-align:center;-webkit-text-stroke:0.75px #1e1e1e;">1</div>
<div style="top:1163.69px;font:bold 18.2px/18.2px 'Liberation Sans', sans-serif;color:#1e1e1e;white-space:pre;left:339.00px;width:800px;text-align:center;-webkit-text-stroke:0.75px #1e1e1e;">2</div>
<div style="top:1163.69px;font:bold 18.2px/18.2px 'Liberation Sans', sans-serif;color:#1e1e1e;white-space:pre;left:392.00px;width:800px;text-align:center;-webkit-text-stroke:0.75px #1e1e1e;">3</div>
<div style="top:1163.69px;font:bold 18.2px/18.2px 'Liberation Sans', sans-serif;color:#1e1e1e;white-space:pre;left:444.50px;width:800px;text-align:center;-webkit-text-stroke:0.75px #1e1e1e;">4</div>
<div style="top:1163.69px;font:bold 18.2px/18.2px 'Liberation Sans', sans-serif;color:#1e1e1e;white-space:pre;left:496.00px;width:800px;text-align:center;-webkit-text-stroke:0.75px #1e1e1e;">5</div>
<div style="top:1163.69px;font:bold 18.2px/18.2px 'Liberation Sans', sans-serif;color:#1e1e1e;white-space:pre;left:550.50px;width:800px;text-align:center;-webkit-text-stroke:0.75px #1e1e1e;">8</div>
<div style="top:1163.69px;font:bold 18.2px/18.2px 'Liberation Sans', sans-serif;color:#1e1e1e;white-space:pre;left:603.00px;width:800px;text-align:center;-webkit-text-stroke:0.75px #1e1e1e;">9</div>
<div style="top:1163.69px;font:bold 18.2px/18.2px 'Liberation Sans', sans-serif;color:#1e1e1e;white-space:pre;left:656.00px;width:800px;text-align:center;-webkit-text-stroke:0.75px #1e1e1e;">10</div>
<div style="top:1163.69px;font:bold 18.2px/18.2px 'Liberation Sans', sans-serif;color:#1e1e1e;white-space:pre;left:709.00px;width:800px;text-align:center;-webkit-text-stroke:0.75px #1e1e1e;">11</div>
<div style="top:1163.69px;font:bold 18.2px/18.2px 'Liberation Sans', sans-serif;color:#1e1e1e;white-space:pre;left:760.50px;width:800px;text-align:center;-webkit-text-stroke:0.75px #1e1e1e;">12</div>
<div style="top:1163.69px;font:bold 18.2px/18.2px 'Liberation Sans', sans-serif;color:#1e1e1e;white-space:pre;left:814.00px;width:800px;text-align:center;-webkit-text-stroke:0.75px #1e1e1e;">15</div>
<div style="top:1163.69px;font:bold 18.2px/18.2px 'Liberation Sans', sans-serif;color:#1e1e1e;white-space:pre;left:866.00px;width:800px;text-align:center;-webkit-text-stroke:0.75px #1e1e1e;">16</div>
<div style="top:1163.69px;font:bold 18.2px/18.2px 'Liberation Sans', sans-serif;color:#1e1e1e;white-space:pre;left:919.00px;width:800px;text-align:center;-webkit-text-stroke:0.75px #1e1e1e;">17</div>
<div style="top:1163.69px;font:bold 18.2px/18.2px 'Liberation Sans', sans-serif;color:#1e1e1e;white-space:pre;left:971.50px;width:800px;text-align:center;-webkit-text-stroke:0.75px #1e1e1e;">18</div>
<div style="left:1361.50px;top:1193.10px;font:bold 29.94px/29.94px 'Liberation Sans', sans-serif;color:#1e1e1e;white-space:pre;-webkit-text-stroke:0.9px #1e1e1e;">E</div>
<div style="top:1163.69px;font:bold 18.2px/18.2px 'Liberation Sans', sans-serif;color:#1e1e1e;white-space:pre;left:1023.00px;width:800px;text-align:center;-webkit-text-stroke:0.75px #1e1e1e;">19</div>
<div style="left:1408.00px;top:1193.10px;font:bold 29.94px/29.94px 'Liberation Sans', sans-serif;color:#1e1e1e;white-space:pre;-webkit-text-stroke:0.9px #1e1e1e;">E</div>
<div style="top:1163.69px;font:bold 18.2px/18.2px 'Liberation Sans', sans-serif;color:#1e1e1e;white-space:pre;left:1077.50px;width:800px;text-align:center;-webkit-text-stroke:0.75px #1e1e1e;">22</div>
<div style="left:1462.59px;top:1192.71px;font:bold 30.52px/30.52px 'Liberation Sans', sans-serif;color:#1e1e1e;white-space:pre;-webkit-text-stroke:0.9px #1e1e1e;">E</div>
<div style="top:1163.69px;font:bold 18.2px/18.2px 'Liberation Sans', sans-serif;color:#1e1e1e;white-space:pre;left:1130.00px;width:800px;text-align:center;-webkit-text-stroke:0.75px #1e1e1e;">23</div>
<div style="left:1508.89px;top:1192.71px;font:bold 30.52px/30.52px 'Liberation Sans', sans-serif;color:#1e1e1e;white-space:pre;-webkit-text-stroke:0.9px #1e1e1e;">E</div>
<div style="top:1163.69px;font:bold 18.2px/18.2px 'Liberation Sans', sans-serif;color:#1e1e1e;white-space:pre;left:1182.50px;width:800px;text-align:center;-webkit-text-stroke:0.75px #1e1e1e;">24</div>
<div style="left:1564.29px;top:1192.71px;font:bold 30.52px/30.52px 'Liberation Sans', sans-serif;color:#1e1e1e;white-space:pre;-webkit-text-stroke:0.9px #1e1e1e;">E</div>
<div style="top:1163.69px;font:bold 18.2px/18.2px 'Liberation Sans', sans-serif;color:#1e1e1e;white-space:pre;left:1235.00px;width:800px;text-align:center;-webkit-text-stroke:0.75px #1e1e1e;">25</div>
<div style="top:1163.69px;font:bold 18.2px/18.2px 'Liberation Sans', sans-serif;color:#1e1e1e;white-space:pre;left:1287.00px;width:800px;text-align:center;-webkit-text-stroke:0.75px #1e1e1e;">26</div>
<div style="left:1680.22px;top:1190.11px;font:bold 30.52px/30.52px 'Liberation Sans', sans-serif;color:#1e1e1e;white-space:pre;-webkit-text-stroke:0.9px #1e1e1e;">P</div>
<div style="top:1163.69px;font:bold 18.2px/18.2px 'Liberation Sans', sans-serif;color:#1e1e1e;white-space:pre;left:1341.00px;width:800px;text-align:center;-webkit-text-stroke:0.75px #1e1e1e;">29</div>
<div style="top:1163.69px;font:bold 18.2px/18.2px 'Liberation Sans', sans-serif;color:#1e1e1e;white-space:pre;left:1393.00px;width:800px;text-align:center;-webkit-text-stroke:0.75px #1e1e1e;">30</div>
<div style="top:1237.69px;font:bold 18.2px/18.2px 'Liberation Sans', sans-serif;color:#1e1e1e;white-space:pre;left:392.00px;width:800px;text-align:center;-webkit-text-stroke:0.75px #1e1e1e;">1</div>
<div style="left:780.71px;top:1264.24px;font:bold 30.99px/30.99px 'Liberation Serif', serif;color:#e1202a;white-space:pre;-webkit-text-stroke:0.4px #e1202a;">H</div>
<div style="top:1237.69px;font:bold 18.2px/18.2px 'Liberation Sans', sans-serif;color:#1e1e1e;white-space:pre;left:444.50px;width:800px;text-align:center;-webkit-text-stroke:0.75px #1e1e1e;">2</div>
<div style="top:1237.69px;font:bold 18.2px/18.2px 'Liberation Sans', sans-serif;color:#1e1e1e;white-space:pre;left:496.00px;width:800px;text-align:center;-webkit-text-stroke:0.75px #1e1e1e;">3</div>
<div style="top:1237.69px;font:bold 18.2px/18.2px 'Liberation Sans', sans-serif;color:#1e1e1e;white-space:pre;left:550.50px;width:800px;text-align:center;-webkit-text-stroke:0.75px #1e1e1e;">6</div>
<div style="top:1237.69px;font:bold 18.2px/18.2px 'Liberation Sans', sans-serif;color:#1e1e1e;white-space:pre;left:603.00px;width:800px;text-align:center;-webkit-text-stroke:0.75px #1e1e1e;">7</div>
<div style="top:1237.69px;font:bold 18.2px/18.2px 'Liberation Sans', sans-serif;color:#1e1e1e;white-space:pre;left:656.00px;width:800px;text-align:center;-webkit-text-stroke:0.75px #1e1e1e;">8</div>
<div style="top:1237.69px;font:bold 18.2px/18.2px 'Liberation Sans', sans-serif;color:#1e1e1e;white-space:pre;left:709.00px;width:800px;text-align:center;-webkit-text-stroke:0.75px #1e1e1e;">9</div>
<div style="top:1237.69px;font:bold 18.2px/18.2px 'Liberation Sans', sans-serif;color:#1e1e1e;white-space:pre;left:760.50px;width:800px;text-align:center;-webkit-text-stroke:0.75px #1e1e1e;">10</div>
<div style="top:1237.69px;font:bold 18.2px/18.2px 'Liberation Sans', sans-serif;color:#1e1e1e;white-space:pre;left:814.00px;width:800px;text-align:center;-webkit-text-stroke:0.75px #1e1e1e;">13</div>
<div style="top:1237.69px;font:bold 18.2px/18.2px 'Liberation Sans', sans-serif;color:#1e1e1e;white-space:pre;left:866.00px;width:800px;text-align:center;-webkit-text-stroke:0.75px #1e1e1e;">14</div>
<div style="top:1237.69px;font:bold 18.2px/18.2px 'Liberation Sans', sans-serif;color:#1e1e1e;white-space:pre;left:919.00px;width:800px;text-align:center;-webkit-text-stroke:0.75px #1e1e1e;">15</div>
<div style="top:1237.69px;font:bold 18.2px/18.2px 'Liberation Sans', sans-serif;color:#1e1e1e;white-space:pre;left:971.50px;width:800px;text-align:center;-webkit-text-stroke:0.75px #1e1e1e;">16</div>
<div style="top:1237.69px;font:bold 18.2px/18.2px 'Liberation Sans', sans-serif;color:#1e1e1e;white-space:pre;left:1023.00px;width:800px;text-align:center;-webkit-text-stroke:0.75px #1e1e1e;">17</div>
<div style="top:1237.69px;font:bold 18.2px/18.2px 'Liberation Sans', sans-serif;color:#1e1e1e;white-space:pre;left:1077.50px;width:800px;text-align:center;-webkit-text-stroke:0.75px #1e1e1e;">20</div>
<div style="top:1237.69px;font:bold 18.2px/18.2px 'Liberation Sans', sans-serif;color:#1e1e1e;white-space:pre;left:1130.00px;width:800px;text-align:center;-webkit-text-stroke:0.75px #1e1e1e;">21</div>
<div style="top:1237.69px;font:bold 18.2px/18.2px 'Liberation Sans', sans-serif;color:#1e1e1e;white-space:pre;left:1182.50px;width:800px;text-align:center;-webkit-text-stroke:0.75px #1e1e1e;">22</div>
<div style="top:1237.69px;font:bold 18.2px/18.2px 'Liberation Sans', sans-serif;color:#1e1e1e;white-space:pre;left:1235.00px;width:800px;text-align:center;-webkit-text-stroke:0.75px #1e1e1e;">23</div>
<div style="top:1237.69px;font:bold 18.2px/18.2px 'Liberation Sans', sans-serif;color:#1e1e1e;white-space:pre;left:1287.00px;width:800px;text-align:center;-webkit-text-stroke:0.75px #1e1e1e;">24</div>
<div style="top:1237.69px;font:bold 18.2px/18.2px 'Liberation Sans', sans-serif;color:#1e1e1e;white-space:pre;left:1341.00px;width:800px;text-align:center;-webkit-text-stroke:0.75px #1e1e1e;">27</div>
<div style="top:1237.69px;font:bold 18.2px/18.2px 'Liberation Sans', sans-serif;color:#1e1e1e;white-space:pre;left:1393.00px;width:800px;text-align:center;-webkit-text-stroke:0.75px #1e1e1e;">28</div>
<div style="top:1237.69px;font:bold 18.2px/18.2px 'Liberation Sans', sans-serif;color:#1e1e1e;white-space:pre;left:1446.00px;width:800px;text-align:center;-webkit-text-stroke:0.75px #1e1e1e;">29</div>
<div style="top:1237.69px;font:bold 18.2px/18.2px 'Liberation Sans', sans-serif;color:#1e1e1e;white-space:pre;left:1499.00px;width:800px;text-align:center;-webkit-text-stroke:0.75px #1e1e1e;">30</div>
<div style="top:1237.69px;font:bold 18.2px/18.2px 'Liberation Sans', sans-serif;color:#1e1e1e;white-space:pre;left:1550.50px;width:800px;text-align:center;-webkit-text-stroke:0.75px #1e1e1e;">31</div>
<div style="left:63.81px;top:96.00px;font:bold 51.02px/51.02px 'Liberation Sans', sans-serif;color:#231f20;white-space:pre;transform:scaleX(1.0731);transform-origin:0 0;">Ontario</div>
<div style="left:419.20px;top:123.24px;font:bold 19.80px/19.80px 'Liberation Sans', sans-serif;color:#1e1e1e;white-space:pre;transform:scaleX(1.0448);transform-origin:0 0;-webkit-text-stroke:0.5px #1e1e1e;">Ministry of Education</div>
<div style="left:1022.04px;top:108.70px;font:bold 52.80px/52.80px 'Liberation Sans', sans-serif;color:#2b3088;white-space:pre;transform:scaleX(0.9837);transform-origin:0 0;-webkit-text-stroke:0.7px #2b3088;">School Year Calendar 2025 - 2026</div>
<div style="left:1307px;top:167px;width:666px;height:102px;border:3.5px solid #1a1a1a"></div>
<div style="left:1358.54px;top:191.76px;font:52.00px/52.00px 'Liberation Sans', sans-serif;color:#2a2b7b;white-space:pre;transform:scaleX(0.9965);transform-origin:0 0;-webkit-text-stroke:0.5px #2a2b7b;">Option 3</div>
<div style="left:61.03px;top:215.17px;font:bold 26.50px/26.50px 'Liberation Sans', sans-serif;color:#1e1e1e;white-space:pre;transform:scaleX(0.9912);transform-origin:0 0;-webkit-text-stroke:0.3px #1e1e1e;">Legend</div>
<svg style="left:186px;top:217px" width="22" height="24"><polygon points="0,0 21,11.5 0,23" fill="#1a1a1a"/></svg>
<div style="left:229.94px;top:216.03px;font:bold 26.00px/26.00px 'Liberation Serif', serif;color:#e1202a;white-space:pre;">H</div>
<div style="left:256.02px;top:216.03px;font:bold 26.00px/26.00px 'Liberation Serif', serif;color:#e1202a;white-space:pre;">-</div>
<div style="left:287.48px;top:207.26px;font:20.60px/20.60px 'Liberation Sans', sans-serif;color:#1e1e1e;white-space:pre;transform:scaleX(0.9893);transform-origin:0 0;-webkit-text-stroke:0.3px #1e1e1e;">Statutory</div>
<div style="left:286.70px;top:229.86px;font:20.60px/20.60px 'Liberation Sans', sans-serif;color:#1e1e1e;white-space:pre;-webkit-text-stroke:0.3px #1e1e1e;">Holiday</div>
<div style="left:428.94px;top:216.03px;font:bold 26.00px/26.00px 'Liberation Serif', serif;color:#e1202a;white-space:pre;">E</div>
<div style="left:452.72px;top:216.03px;font:bold 26.00px/26.00px 'Liberation Serif', serif;color:#e1202a;white-space:pre;">-</div>
<div style="left:483.07px;top:206.66px;font:20.60px/20.60px 'Liberation Sans', sans-serif;color:#1e1e1e;white-space:pre;-webkit-text-stroke:0.3px #1e1e1e;">Scheduled</div>
<div style="left:482.29px;top:229.86px;font:20.60px/20.60px 'Liberation Sans', sans-serif;color:#1e1e1e;white-space:pre;transform:scaleX(1.0066);transform-origin:0 0;-webkit-text-stroke:0.3px #1e1e1e;">Examination Day</div>
<div style="left:685.25px;top:216.03px;font:bold 26.00px/26.00px 'Liberation Serif', serif;color:#e1202a;white-space:pre;">P</div>
<div style="left:707.02px;top:216.03px;font:bold 26.00px/26.00px 'Liberation Serif', serif;color:#e1202a;white-space:pre;">-</div>
<div style="left:742.87px;top:206.56px;font:20.60px/20.60px 'Liberation Sans', sans-serif;color:#1e1e1e;white-space:pre;transform:scaleX(1.0185);transform-origin:0 0;-webkit-text-stroke:0.3px #1e1e1e;">Professional</div>
<div style="left:744.55px;top:229.86px;font:20.60px/20.60px 'Liberation Sans', sans-serif;color:#1e1e1e;white-space:pre;-webkit-text-stroke:0.3px #1e1e1e;">Activity Day</div>
<div style="left:935.44px;top:216.03px;font:bold 26.00px/26.00px 'Liberation Serif', serif;color:#e1202a;white-space:pre;">B</div>
<div style="left:957.82px;top:216.03px;font:bold 26.00px/26.00px 'Liberation Serif', serif;color:#e1202a;white-space:pre;">-</div>
<div style="left:985.10px;top:195.16px;font:20.60px/20.60px 'Liberation Sans', sans-serif;color:#1e1e1e;white-space:pre;-webkit-text-stroke:0.3px #1e1e1e;">Board</div>
<div style="left:985.09px;top:217.76px;font:20.60px/20.60px 'Liberation Sans', sans-serif;color:#1e1e1e;white-space:pre;transform:scaleX(1.0089);transform-origin:0 0;-webkit-text-stroke:0.3px #1e1e1e;">Designated</div>
<div style="left:985.10px;top:241.26px;font:20.60px/20.60px 'Liberation Sans', sans-serif;color:#1e1e1e;white-space:pre;-webkit-text-stroke:0.3px #1e1e1e;">Holiday</div>
<svg style="left:1155px;top:211px" width="38" height="34"><rect x="1.75" y="1.75" width="34" height="30" fill="none" stroke="#e1202a" stroke-width="3.5"/><line x1="4" y1="30" x2="34" y2="4" stroke="#e1202a" stroke-width="3"/></svg>
<div style="left:1209.20px;top:205.96px;font:20.60px/20.60px 'Liberation Sans', sans-serif;color:#1e1e1e;white-space:pre;-webkit-text-stroke:0.3px #1e1e1e;">Half</div>
<div style="left:1209.20px;top:229.46px;font:20.60px/20.60px 'Liberation Sans', sans-serif;color:#1e1e1e;white-space:pre;-webkit-text-stroke:0.3px #1e1e1e;">Day</div>
<svg style="left:270px;top:82px" width="70" height="70" viewBox="0 0 70 70">
<rect x="0" y="0" width="70" height="69" rx="28" ry="28" fill="#231f20"/>
<path d="M13.6,21.6 Q11.4,18 15.6,18 L31.5,18 L34.8,20.3 L38.2,18 L54.4,18 Q58.6,18 56.6,21.6 L36.6,56.6 Q34.4,59.6 32.2,56.6 Z" fill="#fff"/>
<path d="M17.1,21.1 L26.1,21.1 Q30.6,22.2 33.2,25.8 Q34.9,28.6 34,31.2 Q31.5,30.6 29.2,31 Q26.6,31.4 25.2,32.6 Q21,27 17.1,21.1 Z" fill="#231f20"/>
<path d="M52.9,21.1 L43.7,21.1 Q40.2,21.8 38.8,24.7 Q37.4,29 35.8,32.4 Q38.5,32.4 41.5,31.2 Q45.5,29.2 48.6,26 Q51,23.6 52.9,21.1 Z" fill="#231f20"/>
<path d="M30.1,33.2 Q31.6,32 33.2,32.2 Q34.4,33.4 35.2,35 Q36.4,37.6 39.4,39.6 Q39.6,42.5 38.8,45 Q37.3,48.6 34.4,51.6 Q32.2,48 31.2,44 Q29.8,38.6 30.1,33.2 Z" fill="#231f20"/>
</svg>
<div style="left:91.94px;top:543.7px;transform-origin:0 0;transform:rotate(90deg);font:20.6px/20.6px 'Liberation Sans', sans-serif;color:#262626;white-space:pre">Regular Board Meeting - February 19, 2025 - Page 24</div>
<div style="left:681.67px;top:1323.06px;font:bold 18.60px/18.60px 'Liberation Sans', sans-serif;color:#1e1e1e;white-space:pre;transform:scaleX(1.1393);transform-origin:0 0;-webkit-text-stroke:0.3px #1e1e1e;">Note:</div>
<div style="left:757.83px;top:1320.40px;font:20.20px/20.20px 'Liberation Sans', sans-serif;color:#3a3a3a;white-space:pre;transform:scaleX(1.0237);transform-origin:0 0;-webkit-text-stroke:0.3px #3a3a3a;">The 2025-2026 calendar provides for 196 possible school days between September 1, 2025 and June 30, 2026. The school year</div>
<div style="left:757.73px;top:1343.90px;font:20.20px/20.20px 'Liberation Sans', sans-serif;color:#3a3a3a;white-space:pre;transform:scaleX(1.0238);transform-origin:0 0;-webkit-text-stroke:0.3px #3a3a3a;">shall include a minimum of 194 school days of which three days must be designated as professional activity days with respect to</div>
<div style="left:757.73px;top:1366.90px;font:20.20px/20.20px 'Liberation Sans', sans-serif;color:#3a3a3a;white-space:pre;transform:scaleX(1.0244);transform-origin:0 0;-webkit-text-stroke:0.3px #3a3a3a;">specific provincial education priorities as outlined in the Policy/Program Memoranda 151 and up to four extra days may be</div>
<div style="left:757.42px;top:1389.80px;font:20.20px/20.20px 'Liberation Sans', sans-serif;color:#3a3a3a;white-space:pre;transform:scaleX(1.0243);transform-origin:0 0;-webkit-text-stroke:0.3px #3a3a3a;">designated by the board as professional activity days.  The remaining school days shall be instructional days.  The boards may</div>
<div style="left:757.42px;top:1412.70px;font:20.20px/20.20px 'Liberation Sans', sans-serif;color:#3a3a3a;white-space:pre;transform:scaleX(1.0249);transform-origin:0 0;-webkit-text-stroke:0.3px #3a3a3a;">designate up to ten instructional days as examination days</div>
<div style="left:55.73px;top:1490.61px;font:17.00px/17.00px 'Liberation Sans', sans-serif;color:#1e1e1e;white-space:pre;transform:scaleX(1.0630);transform-origin:0 0;-webkit-text-stroke:0.6px #1e1e1e;">© Queen&#x27;s Printer for Ontario, 2020</div>
</body></html>
